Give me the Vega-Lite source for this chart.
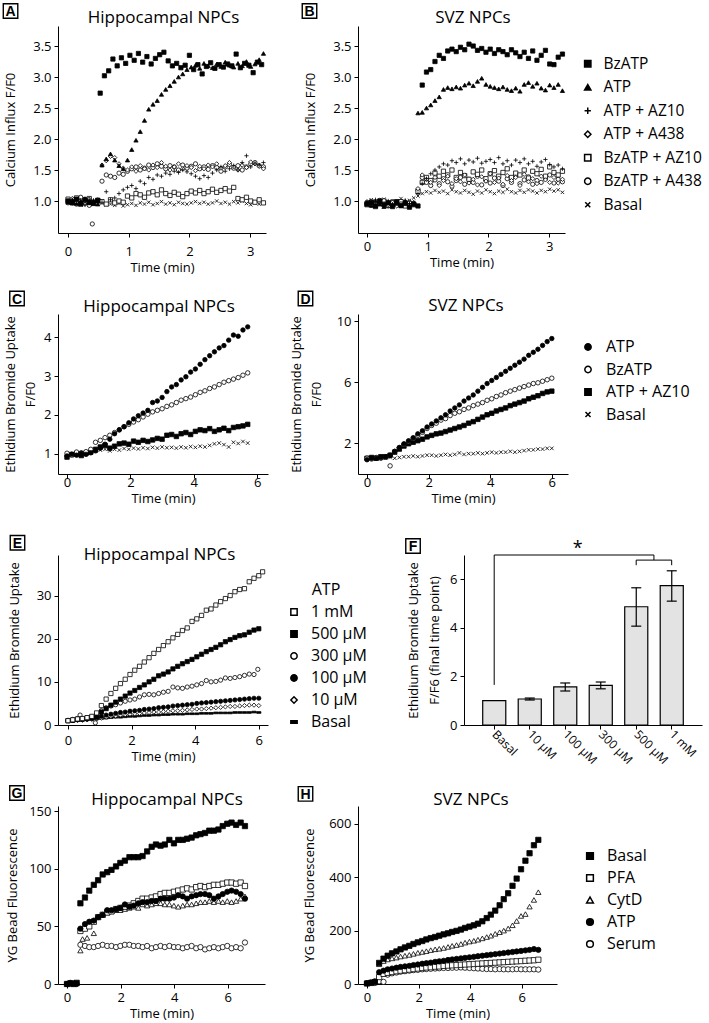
{
"$schema":"https://vega.github.io/schema/vega-lite/v6.json",
"background":"white",
"padding":{"left":0,"top":0,"right":4,"bottom":2},
"columns":2,
"spacing":{"row":81,"column":90},
"bounds":"flush",
"align":"each",
"resolve":{"scale":{"shape":"independent","fill":"independent"},"legend":{"shape":"independent","fill":"independent"}},
"datasets":{
"A":[
{"s":"Basal","t":0,"v":1.00},{"s":"Basal","t":0.07,"v":0.96},{"s":"Basal","t":0.14,"v":1.02},{"s":"Basal","t":0.21,"v":0.94},{"s":"Basal","t":0.28,"v":0.98},{"s":"Basal","t":0.35,"v":1.01},{"s":"Basal","t":0.42,"v":0.95},{"s":"Basal","t":0.49,"v":0.99},{"s":"Basal","t":0.56,"v":0.97},{"s":"Basal","t":0.63,"v":0.94},{"s":"Basal","t":0.7,"v":0.95},{"s":"Basal","t":0.77,"v":0.93},{"s":"Basal","t":0.84,"v":0.96},{"s":"Basal","t":0.91,"v":0.92},{"s":"Basal","t":0.98,"v":0.94},{"s":"Basal","t":1.05,"v":0.96},{"s":"Basal","t":1.12,"v":0.93},{"s":"Basal","t":1.19,"v":0.97},{"s":"Basal","t":1.26,"v":0.95},{"s":"Basal","t":1.33,"v":0.98},{"s":"Basal","t":1.4,"v":0.94},{"s":"Basal","t":1.47,"v":0.96},{"s":"Basal","t":1.54,"v":0.99},{"s":"Basal","t":1.61,"v":0.95},{"s":"Basal","t":1.68,"v":0.97},{"s":"Basal","t":1.75,"v":0.94},{"s":"Basal","t":1.82,"v":0.98},{"s":"Basal","t":1.89,"v":0.96},{"s":"Basal","t":1.96,"v":0.95},{"s":"Basal","t":2.03,"v":0.97},{"s":"Basal","t":2.1,"v":0.99},{"s":"Basal","t":2.17,"v":0.96},{"s":"Basal","t":2.24,"v":0.98},{"s":"Basal","t":2.31,"v":0.95},{"s":"Basal","t":2.38,"v":0.97},{"s":"Basal","t":2.45,"v":1.00},{"s":"Basal","t":2.52,"v":0.96},{"s":"Basal","t":2.59,"v":0.98},{"s":"Basal","t":2.66,"v":0.95},{"s":"Basal","t":2.73,"v":0.99},{"s":"Basal","t":2.8,"v":0.97},{"s":"Basal","t":2.87,"v":1.00},{"s":"Basal","t":2.94,"v":0.96},{"s":"Basal","t":3.01,"v":0.94},{"s":"Basal","t":3.08,"v":0.98},{"s":"Basal","t":3.15,"v":0.95},{"s":"Basal","t":3.22,"v":0.97},
{"s":"BzATP + A438","t":0,"v":0.97},{"s":"BzATP + A438","t":0.07,"v":1.02},{"s":"BzATP + A438","t":0.14,"v":0.95},{"s":"BzATP + A438","t":0.21,"v":1.06},{"s":"BzATP + A438","t":0.28,"v":0.99},{"s":"BzATP + A438","t":0.35,"v":0.93},{"s":"BzATP + A438","t":0.4,"v":0.63},{"s":"BzATP + A438","t":0.49,"v":1.00},{"s":"BzATP + A438","t":0.56,"v":1.32},{"s":"BzATP + A438","t":0.63,"v":1.42},{"s":"BzATP + A438","t":0.7,"v":1.40},{"s":"BzATP + A438","t":0.77,"v":1.38},{"s":"BzATP + A438","t":0.84,"v":1.45},{"s":"BzATP + A438","t":0.91,"v":1.43},{"s":"BzATP + A438","t":0.98,"v":1.48},{"s":"BzATP + A438","t":1.05,"v":1.52},{"s":"BzATP + A438","t":1.12,"v":1.55},{"s":"BzATP + A438","t":1.19,"v":1.50},{"s":"BzATP + A438","t":1.26,"v":1.53},{"s":"BzATP + A438","t":1.33,"v":1.58},{"s":"BzATP + A438","t":1.4,"v":1.54},{"s":"BzATP + A438","t":1.47,"v":1.60},{"s":"BzATP + A438","t":1.54,"v":1.56},{"s":"BzATP + A438","t":1.61,"v":1.52},{"s":"BzATP + A438","t":1.68,"v":1.57},{"s":"BzATP + A438","t":1.75,"v":1.55},{"s":"BzATP + A438","t":1.82,"v":1.50},{"s":"BzATP + A438","t":1.89,"v":1.58},{"s":"BzATP + A438","t":1.96,"v":1.53},{"s":"BzATP + A438","t":2.03,"v":1.56},{"s":"BzATP + A438","t":2.1,"v":1.60},{"s":"BzATP + A438","t":2.17,"v":1.52},{"s":"BzATP + A438","t":2.24,"v":1.55},{"s":"BzATP + A438","t":2.31,"v":1.51},{"s":"BzATP + A438","t":2.38,"v":1.57},{"s":"BzATP + A438","t":2.45,"v":1.54},{"s":"BzATP + A438","t":2.52,"v":1.48},{"s":"BzATP + A438","t":2.59,"v":1.55},{"s":"BzATP + A438","t":2.66,"v":1.59},{"s":"BzATP + A438","t":2.73,"v":1.53},{"s":"BzATP + A438","t":2.8,"v":1.57},{"s":"BzATP + A438","t":2.87,"v":1.50},{"s":"BzATP + A438","t":2.94,"v":1.55},{"s":"BzATP + A438","t":3.01,"v":1.60},{"s":"BzATP + A438","t":3.08,"v":1.62},{"s":"BzATP + A438","t":3.15,"v":1.57},{"s":"BzATP + A438","t":3.22,"v":1.55},
{"s":"BzATP + AZ10","t":0,"v":1.03},{"s":"BzATP + AZ10","t":0.07,"v":0.98},{"s":"BzATP + AZ10","t":0.14,"v":1.05},{"s":"BzATP + AZ10","t":0.21,"v":0.96},{"s":"BzATP + AZ10","t":0.28,"v":1.00},{"s":"BzATP + AZ10","t":0.35,"v":1.04},{"s":"BzATP + AZ10","t":0.42,"v":0.97},{"s":"BzATP + AZ10","t":0.49,"v":1.01},{"s":"BzATP + AZ10","t":0.56,"v":0.99},{"s":"BzATP + AZ10","t":0.63,"v":0.95},{"s":"BzATP + AZ10","t":0.7,"v":1.02},{"s":"BzATP + AZ10","t":0.77,"v":0.97},{"s":"BzATP + AZ10","t":0.84,"v":1.00},{"s":"BzATP + AZ10","t":0.91,"v":0.98},{"s":"BzATP + AZ10","t":0.98,"v":1.08},{"s":"BzATP + AZ10","t":1.05,"v":1.05},{"s":"BzATP + AZ10","t":1.12,"v":1.12},{"s":"BzATP + AZ10","t":1.19,"v":1.10},{"s":"BzATP + AZ10","t":1.26,"v":1.06},{"s":"BzATP + AZ10","t":1.33,"v":1.13},{"s":"BzATP + AZ10","t":1.4,"v":1.15},{"s":"BzATP + AZ10","t":1.47,"v":1.10},{"s":"BzATP + AZ10","t":1.54,"v":1.18},{"s":"BzATP + AZ10","t":1.61,"v":1.12},{"s":"BzATP + AZ10","t":1.68,"v":1.09},{"s":"BzATP + AZ10","t":1.75,"v":1.14},{"s":"BzATP + AZ10","t":1.82,"v":1.11},{"s":"BzATP + AZ10","t":1.89,"v":1.07},{"s":"BzATP + AZ10","t":1.96,"v":1.12},{"s":"BzATP + AZ10","t":2.03,"v":1.16},{"s":"BzATP + AZ10","t":2.1,"v":1.13},{"s":"BzATP + AZ10","t":2.17,"v":1.17},{"s":"BzATP + AZ10","t":2.24,"v":1.12},{"s":"BzATP + AZ10","t":2.31,"v":1.15},{"s":"BzATP + AZ10","t":2.38,"v":1.19},{"s":"BzATP + AZ10","t":2.45,"v":1.14},{"s":"BzATP + AZ10","t":2.52,"v":1.17},{"s":"BzATP + AZ10","t":2.59,"v":1.20},{"s":"BzATP + AZ10","t":2.66,"v":1.16},{"s":"BzATP + AZ10","t":2.73,"v":1.22},{"s":"BzATP + AZ10","t":2.8,"v":1.04},{"s":"BzATP + AZ10","t":2.87,"v":1.02},{"s":"BzATP + AZ10","t":2.94,"v":1.06},{"s":"BzATP + AZ10","t":3.01,"v":1.00},{"s":"BzATP + AZ10","t":3.08,"v":0.98},{"s":"BzATP + AZ10","t":3.15,"v":1.02},{"s":"BzATP + AZ10","t":3.22,"v":0.97},
{"s":"ATP + A438","t":0,"v":0.99},{"s":"ATP + A438","t":0.07,"v":1.04},{"s":"ATP + A438","t":0.14,"v":0.97},{"s":"ATP + A438","t":0.21,"v":1.01},{"s":"ATP + A438","t":0.28,"v":0.95},{"s":"ATP + A438","t":0.35,"v":1.03},{"s":"ATP + A438","t":0.42,"v":0.98},{"s":"ATP + A438","t":0.49,"v":1.02},{"s":"ATP + A438","t":0.56,"v":1.58},{"s":"ATP + A438","t":0.63,"v":1.65},{"s":"ATP + A438","t":0.7,"v":1.72},{"s":"ATP + A438","t":0.77,"v":1.70},{"s":"ATP + A438","t":0.84,"v":1.60},{"s":"ATP + A438","t":0.91,"v":1.53},{"s":"ATP + A438","t":0.98,"v":1.50},{"s":"ATP + A438","t":1.05,"v":1.55},{"s":"ATP + A438","t":1.12,"v":1.48},{"s":"ATP + A438","t":1.19,"v":1.57},{"s":"ATP + A438","t":1.26,"v":1.52},{"s":"ATP + A438","t":1.33,"v":1.50},{"s":"ATP + A438","t":1.4,"v":1.58},{"s":"ATP + A438","t":1.47,"v":1.54},{"s":"ATP + A438","t":1.54,"v":1.62},{"s":"ATP + A438","t":1.61,"v":1.56},{"s":"ATP + A438","t":1.68,"v":1.50},{"s":"ATP + A438","t":1.75,"v":1.55},{"s":"ATP + A438","t":1.82,"v":1.60},{"s":"ATP + A438","t":1.89,"v":1.52},{"s":"ATP + A438","t":1.96,"v":1.57},{"s":"ATP + A438","t":2.03,"v":1.54},{"s":"ATP + A438","t":2.1,"v":1.49},{"s":"ATP + A438","t":2.17,"v":1.56},{"s":"ATP + A438","t":2.24,"v":1.52},{"s":"ATP + A438","t":2.31,"v":1.58},{"s":"ATP + A438","t":2.38,"v":1.55},{"s":"ATP + A438","t":2.45,"v":1.60},{"s":"ATP + A438","t":2.52,"v":1.53},{"s":"ATP + A438","t":2.59,"v":1.57},{"s":"ATP + A438","t":2.66,"v":1.62},{"s":"ATP + A438","t":2.73,"v":1.55},{"s":"ATP + A438","t":2.8,"v":1.50},{"s":"ATP + A438","t":2.87,"v":1.58},{"s":"ATP + A438","t":2.94,"v":1.54},{"s":"ATP + A438","t":3.01,"v":1.63},{"s":"ATP + A438","t":3.08,"v":1.60},{"s":"ATP + A438","t":3.15,"v":1.56},{"s":"ATP + A438","t":3.22,"v":1.52},
{"s":"ATP + AZ10","t":0,"v":1.01},{"s":"ATP + AZ10","t":0.07,"v":0.96},{"s":"ATP + AZ10","t":0.14,"v":1.03},{"s":"ATP + AZ10","t":0.21,"v":0.99},{"s":"ATP + AZ10","t":0.28,"v":0.94},{"s":"ATP + AZ10","t":0.35,"v":1.02},{"s":"ATP + AZ10","t":0.42,"v":0.97},{"s":"ATP + AZ10","t":0.49,"v":1.00},{"s":"ATP + AZ10","t":0.56,"v":0.98},{"s":"ATP + AZ10","t":0.63,"v":1.15},{"s":"ATP + AZ10","t":0.7,"v":1.02},{"s":"ATP + AZ10","t":0.77,"v":1.05},{"s":"ATP + AZ10","t":0.84,"v":1.12},{"s":"ATP + AZ10","t":0.91,"v":1.18},{"s":"ATP + AZ10","t":0.98,"v":1.22},{"s":"ATP + AZ10","t":1.05,"v":1.25},{"s":"ATP + AZ10","t":1.12,"v":1.20},{"s":"ATP + AZ10","t":1.19,"v":1.32},{"s":"ATP + AZ10","t":1.26,"v":1.28},{"s":"ATP + AZ10","t":1.33,"v":1.38},{"s":"ATP + AZ10","t":1.4,"v":1.35},{"s":"ATP + AZ10","t":1.47,"v":1.42},{"s":"ATP + AZ10","t":1.54,"v":1.40},{"s":"ATP + AZ10","t":1.61,"v":1.45},{"s":"ATP + AZ10","t":1.68,"v":1.43},{"s":"ATP + AZ10","t":1.75,"v":1.48},{"s":"ATP + AZ10","t":1.82,"v":1.46},{"s":"ATP + AZ10","t":1.89,"v":1.50},{"s":"ATP + AZ10","t":1.96,"v":1.47},{"s":"ATP + AZ10","t":2.03,"v":1.44},{"s":"ATP + AZ10","t":2.1,"v":1.40},{"s":"ATP + AZ10","t":2.17,"v":1.36},{"s":"ATP + AZ10","t":2.24,"v":1.41},{"s":"ATP + AZ10","t":2.31,"v":1.38},{"s":"ATP + AZ10","t":2.38,"v":1.45},{"s":"ATP + AZ10","t":2.45,"v":1.50},{"s":"ATP + AZ10","t":2.52,"v":1.55},{"s":"ATP + AZ10","t":2.59,"v":1.48},{"s":"ATP + AZ10","t":2.66,"v":1.52},{"s":"ATP + AZ10","t":2.73,"v":1.57},{"s":"ATP + AZ10","t":2.8,"v":1.50},{"s":"ATP + AZ10","t":2.87,"v":1.62},{"s":"ATP + AZ10","t":2.94,"v":1.73},{"s":"ATP + AZ10","t":3.01,"v":1.55},{"s":"ATP + AZ10","t":3.08,"v":1.60},{"s":"ATP + AZ10","t":3.15,"v":1.58},{"s":"ATP + AZ10","t":3.22,"v":1.62},
{"s":"ATP","t":0,"v":0.98},{"s":"ATP","t":0.07,"v":1.02},{"s":"ATP","t":0.14,"v":0.96},{"s":"ATP","t":0.21,"v":1.00},{"s":"ATP","t":0.28,"v":1.04},{"s":"ATP","t":0.35,"v":0.97},{"s":"ATP","t":0.42,"v":1.01},{"s":"ATP","t":0.49,"v":0.95},{"s":"ATP","t":0.56,"v":1.58},{"s":"ATP","t":0.63,"v":1.68},{"s":"ATP","t":0.7,"v":1.76},{"s":"ATP","t":0.77,"v":1.66},{"s":"ATP","t":0.84,"v":1.57},{"s":"ATP","t":0.91,"v":1.52},{"s":"ATP","t":0.98,"v":1.66},{"s":"ATP","t":1.05,"v":1.83},{"s":"ATP","t":1.12,"v":1.98},{"s":"ATP","t":1.19,"v":2.12},{"s":"ATP","t":1.26,"v":2.30},{"s":"ATP","t":1.33,"v":2.48},{"s":"ATP","t":1.4,"v":2.56},{"s":"ATP","t":1.47,"v":2.62},{"s":"ATP","t":1.54,"v":2.72},{"s":"ATP","t":1.61,"v":2.80},{"s":"ATP","t":1.68,"v":2.86},{"s":"ATP","t":1.75,"v":2.93},{"s":"ATP","t":1.82,"v":3.00},{"s":"ATP","t":1.89,"v":3.05},{"s":"ATP","t":1.96,"v":3.12},{"s":"ATP","t":2.03,"v":3.16},{"s":"ATP","t":2.1,"v":3.19},{"s":"ATP","t":2.17,"v":3.14},{"s":"ATP","t":2.24,"v":3.22},{"s":"ATP","t":2.31,"v":3.18},{"s":"ATP","t":2.38,"v":3.15},{"s":"ATP","t":2.45,"v":3.21},{"s":"ATP","t":2.52,"v":3.17},{"s":"ATP","t":2.59,"v":3.24},{"s":"ATP","t":2.66,"v":3.19},{"s":"ATP","t":2.73,"v":3.16},{"s":"ATP","t":2.8,"v":3.22},{"s":"ATP","t":2.87,"v":3.18},{"s":"ATP","t":2.94,"v":3.25},{"s":"ATP","t":3.01,"v":3.17},{"s":"ATP","t":3.08,"v":3.21},{"s":"ATP","t":3.15,"v":3.28},{"s":"ATP","t":3.22,"v":3.38},
{"s":"BzATP","t":0,"v":1.00},{"s":"BzATP","t":0.07,"v":0.97},{"s":"BzATP","t":0.14,"v":1.03},{"s":"BzATP","t":0.21,"v":0.95},{"s":"BzATP","t":0.28,"v":1.02},{"s":"BzATP","t":0.35,"v":0.98},{"s":"BzATP","t":0.42,"v":0.96},{"s":"BzATP","t":0.49,"v":1.01},{"s":"BzATP","t":0.53,"v":2.74},{"s":"BzATP","t":0.6,"v":3.02},{"s":"BzATP","t":0.67,"v":3.10},{"s":"BzATP","t":0.74,"v":3.29},{"s":"BzATP","t":0.81,"v":3.18},{"s":"BzATP","t":0.88,"v":3.31},{"s":"BzATP","t":0.95,"v":3.22},{"s":"BzATP","t":1.02,"v":3.35},{"s":"BzATP","t":1.09,"v":3.27},{"s":"BzATP","t":1.16,"v":3.38},{"s":"BzATP","t":1.23,"v":3.24},{"s":"BzATP","t":1.3,"v":3.33},{"s":"BzATP","t":1.37,"v":3.21},{"s":"BzATP","t":1.44,"v":3.30},{"s":"BzATP","t":1.51,"v":3.36},{"s":"BzATP","t":1.58,"v":3.40},{"s":"BzATP","t":1.65,"v":3.26},{"s":"BzATP","t":1.72,"v":3.18},{"s":"BzATP","t":1.79,"v":3.22},{"s":"BzATP","t":1.86,"v":3.15},{"s":"BzATP","t":1.93,"v":3.19},{"s":"BzATP","t":2.0,"v":3.35},{"s":"BzATP","t":2.07,"v":3.12},{"s":"BzATP","t":2.14,"v":3.20},{"s":"BzATP","t":2.21,"v":3.05},{"s":"BzATP","t":2.28,"v":3.17},{"s":"BzATP","t":2.35,"v":3.23},{"s":"BzATP","t":2.42,"v":3.14},{"s":"BzATP","t":2.49,"v":3.20},{"s":"BzATP","t":2.56,"v":3.16},{"s":"BzATP","t":2.63,"v":3.21},{"s":"BzATP","t":2.7,"v":3.18},{"s":"BzATP","t":2.77,"v":3.37},{"s":"BzATP","t":2.84,"v":3.15},{"s":"BzATP","t":2.91,"v":3.22},{"s":"BzATP","t":2.98,"v":3.19},{"s":"BzATP","t":3.05,"v":3.07},{"s":"BzATP","t":3.12,"v":3.24},{"s":"BzATP","t":3.19,"v":3.20}
],
"B":[
{"s":"Basal","t":0,"v":0.97},{"s":"Basal","t":0.07,"v":1.02},{"s":"Basal","t":0.14,"v":0.95},{"s":"Basal","t":0.21,"v":0.99},{"s":"Basal","t":0.28,"v":1.03},{"s":"Basal","t":0.35,"v":0.96},{"s":"Basal","t":0.42,"v":1.00},{"s":"Basal","t":0.49,"v":0.98},{"s":"Basal","t":0.56,"v":1.04},{"s":"Basal","t":0.63,"v":0.97},{"s":"Basal","t":0.7,"v":1.01},{"s":"Basal","t":0.77,"v":1.05},{"s":"Basal","t":0.84,"v":1.08},{"s":"Basal","t":0.91,"v":1.12},{"s":"Basal","t":0.98,"v":1.15},{"s":"Basal","t":1.05,"v":1.13},{"s":"Basal","t":1.12,"v":1.17},{"s":"Basal","t":1.19,"v":1.14},{"s":"Basal","t":1.26,"v":1.16},{"s":"Basal","t":1.33,"v":1.12},{"s":"Basal","t":1.4,"v":1.18},{"s":"Basal","t":1.47,"v":1.15},{"s":"Basal","t":1.54,"v":1.13},{"s":"Basal","t":1.61,"v":1.17},{"s":"Basal","t":1.68,"v":1.14},{"s":"Basal","t":1.75,"v":1.11},{"s":"Basal","t":1.82,"v":1.16},{"s":"Basal","t":1.89,"v":1.13},{"s":"Basal","t":1.96,"v":1.18},{"s":"Basal","t":2.03,"v":1.15},{"s":"Basal","t":2.1,"v":1.12},{"s":"Basal","t":2.17,"v":1.16},{"s":"Basal","t":2.24,"v":1.14},{"s":"Basal","t":2.31,"v":1.19},{"s":"Basal","t":2.38,"v":1.15},{"s":"Basal","t":2.45,"v":1.13},{"s":"Basal","t":2.52,"v":1.17},{"s":"Basal","t":2.59,"v":1.14},{"s":"Basal","t":2.66,"v":1.18},{"s":"Basal","t":2.73,"v":1.16},{"s":"Basal","t":2.8,"v":1.13},{"s":"Basal","t":2.87,"v":1.17},{"s":"Basal","t":2.94,"v":1.15},{"s":"Basal","t":3.01,"v":1.19},{"s":"Basal","t":3.08,"v":1.16},{"s":"Basal","t":3.15,"v":1.18},{"s":"Basal","t":3.22,"v":1.14},
{"s":"BzATP + A438","t":0,"v":0.98},{"s":"BzATP + A438","t":0.07,"v":0.93},{"s":"BzATP + A438","t":0.14,"v":0.97},{"s":"BzATP + A438","t":0.21,"v":1.01},{"s":"BzATP + A438","t":0.28,"v":0.95},{"s":"BzATP + A438","t":0.35,"v":0.92},{"s":"BzATP + A438","t":0.42,"v":0.99},{"s":"BzATP + A438","t":0.49,"v":0.94},{"s":"BzATP + A438","t":0.56,"v":0.97},{"s":"BzATP + A438","t":0.63,"v":0.93},{"s":"BzATP + A438","t":0.7,"v":0.98},{"s":"BzATP + A438","t":0.77,"v":0.96},{"s":"BzATP + A438","t":0.84,"v":1.18},{"s":"BzATP + A438","t":0.91,"v":1.38},{"s":"BzATP + A438","t":0.98,"v":1.30},{"s":"BzATP + A438","t":1.05,"v":1.25},{"s":"BzATP + A438","t":1.12,"v":1.34},{"s":"BzATP + A438","t":1.19,"v":1.28},{"s":"BzATP + A438","t":1.26,"v":1.36},{"s":"BzATP + A438","t":1.33,"v":1.31},{"s":"BzATP + A438","t":1.4,"v":1.24},{"s":"BzATP + A438","t":1.47,"v":1.33},{"s":"BzATP + A438","t":1.54,"v":1.38},{"s":"BzATP + A438","t":1.61,"v":1.27},{"s":"BzATP + A438","t":1.68,"v":1.35},{"s":"BzATP + A438","t":1.75,"v":1.30},{"s":"BzATP + A438","t":1.82,"v":1.40},{"s":"BzATP + A438","t":1.89,"v":1.26},{"s":"BzATP + A438","t":1.96,"v":1.33},{"s":"BzATP + A438","t":2.03,"v":1.29},{"s":"BzATP + A438","t":2.1,"v":1.37},{"s":"BzATP + A438","t":2.17,"v":1.32},{"s":"BzATP + A438","t":2.24,"v":1.25},{"s":"BzATP + A438","t":2.31,"v":1.36},{"s":"BzATP + A438","t":2.38,"v":1.30},{"s":"BzATP + A438","t":2.45,"v":1.41},{"s":"BzATP + A438","t":2.52,"v":1.28},{"s":"BzATP + A438","t":2.59,"v":1.34},{"s":"BzATP + A438","t":2.66,"v":1.39},{"s":"BzATP + A438","t":2.73,"v":1.27},{"s":"BzATP + A438","t":2.8,"v":1.33},{"s":"BzATP + A438","t":2.87,"v":1.30},{"s":"BzATP + A438","t":2.94,"v":1.36},{"s":"BzATP + A438","t":3.01,"v":1.42},{"s":"BzATP + A438","t":3.08,"v":1.29},{"s":"BzATP + A438","t":3.15,"v":1.35},{"s":"BzATP + A438","t":3.22,"v":1.31},
{"s":"BzATP + AZ10","t":0,"v":0.94},{"s":"BzATP + AZ10","t":0.07,"v":0.98},{"s":"BzATP + AZ10","t":0.14,"v":0.91},{"s":"BzATP + AZ10","t":0.21,"v":0.96},{"s":"BzATP + AZ10","t":0.28,"v":1.00},{"s":"BzATP + AZ10","t":0.35,"v":0.93},{"s":"BzATP + AZ10","t":0.42,"v":0.97},{"s":"BzATP + AZ10","t":0.49,"v":0.95},{"s":"BzATP + AZ10","t":0.56,"v":0.99},{"s":"BzATP + AZ10","t":0.63,"v":0.92},{"s":"BzATP + AZ10","t":0.7,"v":0.96},{"s":"BzATP + AZ10","t":0.77,"v":0.94},{"s":"BzATP + AZ10","t":0.84,"v":1.15},{"s":"BzATP + AZ10","t":0.91,"v":1.30},{"s":"BzATP + AZ10","t":0.98,"v":1.38},{"s":"BzATP + AZ10","t":1.05,"v":1.33},{"s":"BzATP + AZ10","t":1.12,"v":1.45},{"s":"BzATP + AZ10","t":1.19,"v":1.40},{"s":"BzATP + AZ10","t":1.26,"v":1.48},{"s":"BzATP + AZ10","t":1.33,"v":1.42},{"s":"BzATP + AZ10","t":1.4,"v":1.50},{"s":"BzATP + AZ10","t":1.47,"v":1.38},{"s":"BzATP + AZ10","t":1.54,"v":1.46},{"s":"BzATP + AZ10","t":1.61,"v":1.41},{"s":"BzATP + AZ10","t":1.68,"v":1.35},{"s":"BzATP + AZ10","t":1.75,"v":1.47},{"s":"BzATP + AZ10","t":1.82,"v":1.43},{"s":"BzATP + AZ10","t":1.89,"v":1.50},{"s":"BzATP + AZ10","t":1.96,"v":1.36},{"s":"BzATP + AZ10","t":2.03,"v":1.44},{"s":"BzATP + AZ10","t":2.1,"v":1.49},{"s":"BzATP + AZ10","t":2.17,"v":1.40},{"s":"BzATP + AZ10","t":2.24,"v":1.46},{"s":"BzATP + AZ10","t":2.31,"v":1.52},{"s":"BzATP + AZ10","t":2.38,"v":1.38},{"s":"BzATP + AZ10","t":2.45,"v":1.45},{"s":"BzATP + AZ10","t":2.52,"v":1.42},{"s":"BzATP + AZ10","t":2.59,"v":1.50},{"s":"BzATP + AZ10","t":2.66,"v":1.37},{"s":"BzATP + AZ10","t":2.73,"v":1.48},{"s":"BzATP + AZ10","t":2.8,"v":1.44},{"s":"BzATP + AZ10","t":2.87,"v":1.51},{"s":"BzATP + AZ10","t":2.94,"v":1.40},{"s":"BzATP + AZ10","t":3.01,"v":1.55},{"s":"BzATP + AZ10","t":3.08,"v":1.46},{"s":"BzATP + AZ10","t":3.15,"v":1.42},{"s":"BzATP + AZ10","t":3.22,"v":1.48},
{"s":"ATP + A438","t":0,"v":0.96},{"s":"ATP + A438","t":0.07,"v":1.00},{"s":"ATP + A438","t":0.14,"v":0.93},{"s":"ATP + A438","t":0.21,"v":0.97},{"s":"ATP + A438","t":0.28,"v":1.01},{"s":"ATP + A438","t":0.35,"v":0.94},{"s":"ATP + A438","t":0.42,"v":0.98},{"s":"ATP + A438","t":0.49,"v":0.92},{"s":"ATP + A438","t":0.56,"v":0.96},{"s":"ATP + A438","t":0.63,"v":0.99},{"s":"ATP + A438","t":0.7,"v":0.94},{"s":"ATP + A438","t":0.77,"v":0.97},{"s":"ATP + A438","t":0.84,"v":1.20},{"s":"ATP + A438","t":0.91,"v":1.42},{"s":"ATP + A438","t":0.98,"v":1.35},{"s":"ATP + A438","t":1.05,"v":1.30},{"s":"ATP + A438","t":1.12,"v":1.38},{"s":"ATP + A438","t":1.19,"v":1.25},{"s":"ATP + A438","t":1.26,"v":1.33},{"s":"ATP + A438","t":1.33,"v":1.40},{"s":"ATP + A438","t":1.4,"v":1.28},{"s":"ATP + A438","t":1.47,"v":1.36},{"s":"ATP + A438","t":1.54,"v":1.31},{"s":"ATP + A438","t":1.61,"v":1.42},{"s":"ATP + A438","t":1.68,"v":1.29},{"s":"ATP + A438","t":1.75,"v":1.35},{"s":"ATP + A438","t":1.82,"v":1.26},{"s":"ATP + A438","t":1.89,"v":1.39},{"s":"ATP + A438","t":1.96,"v":1.32},{"s":"ATP + A438","t":2.03,"v":1.44},{"s":"ATP + A438","t":2.1,"v":1.30},{"s":"ATP + A438","t":2.17,"v":1.37},{"s":"ATP + A438","t":2.24,"v":1.27},{"s":"ATP + A438","t":2.31,"v":1.41},{"s":"ATP + A438","t":2.38,"v":1.33},{"s":"ATP + A438","t":2.45,"v":1.38},{"s":"ATP + A438","t":2.52,"v":1.25},{"s":"ATP + A438","t":2.59,"v":1.43},{"s":"ATP + A438","t":2.66,"v":1.31},{"s":"ATP + A438","t":2.73,"v":1.36},{"s":"ATP + A438","t":2.8,"v":1.28},{"s":"ATP + A438","t":2.87,"v":1.40},{"s":"ATP + A438","t":2.94,"v":1.34},{"s":"ATP + A438","t":3.01,"v":1.30},{"s":"ATP + A438","t":3.08,"v":1.38},{"s":"ATP + A438","t":3.15,"v":1.29},{"s":"ATP + A438","t":3.22,"v":1.35},
{"s":"ATP + AZ10","t":0,"v":0.99},{"s":"ATP + AZ10","t":0.07,"v":0.94},{"s":"ATP + AZ10","t":0.14,"v":1.02},{"s":"ATP + AZ10","t":0.21,"v":0.96},{"s":"ATP + AZ10","t":0.28,"v":0.93},{"s":"ATP + AZ10","t":0.35,"v":1.00},{"s":"ATP + AZ10","t":0.42,"v":0.95},{"s":"ATP + AZ10","t":0.49,"v":0.97},{"s":"ATP + AZ10","t":0.56,"v":0.92},{"s":"ATP + AZ10","t":0.63,"v":1.01},{"s":"ATP + AZ10","t":0.7,"v":0.96},{"s":"ATP + AZ10","t":0.77,"v":0.98},{"s":"ATP + AZ10","t":0.84,"v":1.12},{"s":"ATP + AZ10","t":0.91,"v":1.28},{"s":"ATP + AZ10","t":0.98,"v":1.36},{"s":"ATP + AZ10","t":1.05,"v":1.44},{"s":"ATP + AZ10","t":1.12,"v":1.50},{"s":"ATP + AZ10","t":1.19,"v":1.55},{"s":"ATP + AZ10","t":1.26,"v":1.60},{"s":"ATP + AZ10","t":1.33,"v":1.58},{"s":"ATP + AZ10","t":1.4,"v":1.65},{"s":"ATP + AZ10","t":1.47,"v":1.62},{"s":"ATP + AZ10","t":1.54,"v":1.68},{"s":"ATP + AZ10","t":1.61,"v":1.60},{"s":"ATP + AZ10","t":1.68,"v":1.66},{"s":"ATP + AZ10","t":1.75,"v":1.63},{"s":"ATP + AZ10","t":1.82,"v":1.69},{"s":"ATP + AZ10","t":1.89,"v":1.61},{"s":"ATP + AZ10","t":1.96,"v":1.64},{"s":"ATP + AZ10","t":2.03,"v":1.67},{"s":"ATP + AZ10","t":2.1,"v":1.62},{"s":"ATP + AZ10","t":2.17,"v":1.70},{"s":"ATP + AZ10","t":2.24,"v":1.60},{"s":"ATP + AZ10","t":2.31,"v":1.65},{"s":"ATP + AZ10","t":2.38,"v":1.58},{"s":"ATP + AZ10","t":2.45,"v":1.66},{"s":"ATP + AZ10","t":2.52,"v":1.62},{"s":"ATP + AZ10","t":2.59,"v":1.68},{"s":"ATP + AZ10","t":2.66,"v":1.60},{"s":"ATP + AZ10","t":2.73,"v":1.64},{"s":"ATP + AZ10","t":2.8,"v":1.56},{"s":"ATP + AZ10","t":2.87,"v":1.63},{"s":"ATP + AZ10","t":2.94,"v":1.67},{"s":"ATP + AZ10","t":3.01,"v":1.59},{"s":"ATP + AZ10","t":3.08,"v":1.55},{"s":"ATP + AZ10","t":3.15,"v":1.58},{"s":"ATP + AZ10","t":3.22,"v":1.52},
{"s":"ATP","t":0,"v":0.97},{"s":"ATP","t":0.07,"v":0.93},{"s":"ATP","t":0.14,"v":1.00},{"s":"ATP","t":0.21,"v":0.95},{"s":"ATP","t":0.28,"v":0.91},{"s":"ATP","t":0.35,"v":0.98},{"s":"ATP","t":0.42,"v":0.94},{"s":"ATP","t":0.49,"v":0.96},{"s":"ATP","t":0.56,"v":0.92},{"s":"ATP","t":0.63,"v":0.99},{"s":"ATP","t":0.7,"v":0.93},{"s":"ATP","t":0.77,"v":0.95},{"s":"ATP","t":0.84,"v":2.42},{"s":"ATP","t":0.91,"v":2.43},{"s":"ATP","t":0.98,"v":2.50},{"s":"ATP","t":1.05,"v":2.55},{"s":"ATP","t":1.12,"v":2.62},{"s":"ATP","t":1.19,"v":2.68},{"s":"ATP","t":1.26,"v":2.80},{"s":"ATP","t":1.33,"v":2.83},{"s":"ATP","t":1.4,"v":2.81},{"s":"ATP","t":1.47,"v":2.84},{"s":"ATP","t":1.54,"v":2.82},{"s":"ATP","t":1.61,"v":2.87},{"s":"ATP","t":1.68,"v":2.90},{"s":"ATP","t":1.75,"v":2.86},{"s":"ATP","t":1.82,"v":2.93},{"s":"ATP","t":1.89,"v":2.98},{"s":"ATP","t":1.96,"v":2.88},{"s":"ATP","t":2.03,"v":2.85},{"s":"ATP","t":2.1,"v":2.83},{"s":"ATP","t":2.17,"v":2.81},{"s":"ATP","t":2.24,"v":2.84},{"s":"ATP","t":2.31,"v":2.80},{"s":"ATP","t":2.38,"v":2.78},{"s":"ATP","t":2.45,"v":2.82},{"s":"ATP","t":2.52,"v":2.77},{"s":"ATP","t":2.59,"v":2.88},{"s":"ATP","t":2.66,"v":2.91},{"s":"ATP","t":2.73,"v":2.85},{"s":"ATP","t":2.8,"v":2.90},{"s":"ATP","t":2.87,"v":2.82},{"s":"ATP","t":2.94,"v":2.79},{"s":"ATP","t":3.01,"v":2.87},{"s":"ATP","t":3.08,"v":2.83},{"s":"ATP","t":3.15,"v":2.88},{"s":"ATP","t":3.22,"v":2.78},
{"s":"BzATP","t":0,"v":0.95},{"s":"BzATP","t":0.07,"v":0.98},{"s":"BzATP","t":0.14,"v":0.92},{"s":"BzATP","t":0.21,"v":1.00},{"s":"BzATP","t":0.28,"v":0.94},{"s":"BzATP","t":0.35,"v":0.97},{"s":"BzATP","t":0.42,"v":0.91},{"s":"BzATP","t":0.49,"v":0.99},{"s":"BzATP","t":0.56,"v":0.93},{"s":"BzATP","t":0.63,"v":0.96},{"s":"BzATP","t":0.7,"v":0.90},{"s":"BzATP","t":0.77,"v":0.95},{"s":"BzATP","t":0.84,"v":0.92},{"s":"BzATP","t":0.91,"v":2.87},{"s":"BzATP","t":0.98,"v":3.08},{"s":"BzATP","t":1.05,"v":3.12},{"s":"BzATP","t":1.12,"v":3.25},{"s":"BzATP","t":1.19,"v":3.35},{"s":"BzATP","t":1.26,"v":3.30},{"s":"BzATP","t":1.33,"v":3.42},{"s":"BzATP","t":1.4,"v":3.45},{"s":"BzATP","t":1.47,"v":3.41},{"s":"BzATP","t":1.54,"v":3.48},{"s":"BzATP","t":1.61,"v":3.44},{"s":"BzATP","t":1.68,"v":3.53},{"s":"BzATP","t":1.75,"v":3.50},{"s":"BzATP","t":1.82,"v":3.43},{"s":"BzATP","t":1.89,"v":3.46},{"s":"BzATP","t":1.96,"v":3.40},{"s":"BzATP","t":2.03,"v":3.45},{"s":"BzATP","t":2.1,"v":3.38},{"s":"BzATP","t":2.17,"v":3.44},{"s":"BzATP","t":2.24,"v":3.41},{"s":"BzATP","t":2.31,"v":3.36},{"s":"BzATP","t":2.38,"v":3.44},{"s":"BzATP","t":2.45,"v":3.39},{"s":"BzATP","t":2.52,"v":3.33},{"s":"BzATP","t":2.59,"v":3.40},{"s":"BzATP","t":2.66,"v":3.30},{"s":"BzATP","t":2.73,"v":3.42},{"s":"BzATP","t":2.8,"v":3.27},{"s":"BzATP","t":2.87,"v":3.35},{"s":"BzATP","t":2.94,"v":3.43},{"s":"BzATP","t":3.01,"v":3.21},{"s":"BzATP","t":3.08,"v":3.20},{"s":"BzATP","t":3.15,"v":3.32},{"s":"BzATP","t":3.22,"v":3.37}
],
"C":[
{"s":"Basal","t":0,"v":0.98},{"s":"Basal","t":0.15,"v":1.01},{"s":"Basal","t":0.3,"v":0.99},{"s":"Basal","t":0.45,"v":1.03},{"s":"Basal","t":0.6,"v":1.00},{"s":"Basal","t":0.75,"v":1.05},{"s":"Basal","t":0.9,"v":1.08},{"s":"Basal","t":1.05,"v":1.10},{"s":"Basal","t":1.2,"v":1.12},{"s":"Basal","t":1.35,"v":1.08},{"s":"Basal","t":1.5,"v":1.12},{"s":"Basal","t":1.65,"v":1.10},{"s":"Basal","t":1.8,"v":1.14},{"s":"Basal","t":1.95,"v":1.12},{"s":"Basal","t":2.1,"v":1.15},{"s":"Basal","t":2.25,"v":1.13},{"s":"Basal","t":2.4,"v":1.16},{"s":"Basal","t":2.55,"v":1.14},{"s":"Basal","t":2.7,"v":1.17},{"s":"Basal","t":2.85,"v":1.15},{"s":"Basal","t":3,"v":1.18},{"s":"Basal","t":3.15,"v":1.16},{"s":"Basal","t":3.3,"v":1.17},{"s":"Basal","t":3.45,"v":1.15},{"s":"Basal","t":3.6,"v":1.18},{"s":"Basal","t":3.75,"v":1.16},{"s":"Basal","t":3.9,"v":1.19},{"s":"Basal","t":4.05,"v":1.17},{"s":"Basal","t":4.2,"v":1.20},{"s":"Basal","t":4.35,"v":1.18},{"s":"Basal","t":4.5,"v":1.22},{"s":"Basal","t":4.65,"v":1.26},{"s":"Basal","t":4.8,"v":1.28},{"s":"Basal","t":4.95,"v":1.24},{"s":"Basal","t":5.1,"v":1.18},{"s":"Basal","t":5.25,"v":1.30},{"s":"Basal","t":5.4,"v":1.27},{"s":"Basal","t":5.55,"v":1.32},{"s":"Basal","t":5.7,"v":1.28},
{"s":"ATP + AZ10","t":0,"v":0.92},{"s":"ATP + AZ10","t":0.15,"v":0.98},{"s":"ATP + AZ10","t":0.3,"v":1.00},{"s":"ATP + AZ10","t":0.45,"v":0.96},{"s":"ATP + AZ10","t":0.6,"v":1.02},{"s":"ATP + AZ10","t":0.75,"v":1.05},{"s":"ATP + AZ10","t":0.9,"v":1.12},{"s":"ATP + AZ10","t":1.05,"v":1.18},{"s":"ATP + AZ10","t":1.2,"v":1.22},{"s":"ATP + AZ10","t":1.35,"v":1.15},{"s":"ATP + AZ10","t":1.5,"v":1.20},{"s":"ATP + AZ10","t":1.65,"v":1.26},{"s":"ATP + AZ10","t":1.8,"v":1.28},{"s":"ATP + AZ10","t":1.95,"v":1.25},{"s":"ATP + AZ10","t":2.1,"v":1.33},{"s":"ATP + AZ10","t":2.25,"v":1.30},{"s":"ATP + AZ10","t":2.4,"v":1.35},{"s":"ATP + AZ10","t":2.55,"v":1.32},{"s":"ATP + AZ10","t":2.7,"v":1.36},{"s":"ATP + AZ10","t":2.85,"v":1.40},{"s":"ATP + AZ10","t":3,"v":1.38},{"s":"ATP + AZ10","t":3.15,"v":1.48},{"s":"ATP + AZ10","t":3.3,"v":1.50},{"s":"ATP + AZ10","t":3.45,"v":1.45},{"s":"ATP + AZ10","t":3.6,"v":1.52},{"s":"ATP + AZ10","t":3.75,"v":1.55},{"s":"ATP + AZ10","t":3.9,"v":1.50},{"s":"ATP + AZ10","t":4.05,"v":1.58},{"s":"ATP + AZ10","t":4.2,"v":1.62},{"s":"ATP + AZ10","t":4.35,"v":1.60},{"s":"ATP + AZ10","t":4.5,"v":1.65},{"s":"ATP + AZ10","t":4.65,"v":1.58},{"s":"ATP + AZ10","t":4.8,"v":1.62},{"s":"ATP + AZ10","t":4.95,"v":1.66},{"s":"ATP + AZ10","t":5.1,"v":1.60},{"s":"ATP + AZ10","t":5.25,"v":1.68},{"s":"ATP + AZ10","t":5.4,"v":1.70},{"s":"ATP + AZ10","t":5.55,"v":1.72},{"s":"ATP + AZ10","t":5.7,"v":1.76},
{"s":"BzATP","t":0,"v":1.02},{"s":"BzATP","t":0.15,"v":0.98},{"s":"BzATP","t":0.3,"v":1.05},{"s":"BzATP","t":0.45,"v":1.03},{"s":"BzATP","t":0.6,"v":1.06},{"s":"BzATP","t":0.75,"v":1.12},{"s":"BzATP","t":0.9,"v":1.30},{"s":"BzATP","t":1.05,"v":1.35},{"s":"BzATP","t":1.2,"v":1.42},{"s":"BzATP","t":1.35,"v":1.48},{"s":"BzATP","t":1.5,"v":1.55},{"s":"BzATP","t":1.65,"v":1.62},{"s":"BzATP","t":1.8,"v":1.70},{"s":"BzATP","t":1.95,"v":1.76},{"s":"BzATP","t":2.1,"v":1.82},{"s":"BzATP","t":2.25,"v":1.88},{"s":"BzATP","t":2.4,"v":1.95},{"s":"BzATP","t":2.55,"v":2.02},{"s":"BzATP","t":2.7,"v":2.08},{"s":"BzATP","t":2.85,"v":2.12},{"s":"BzATP","t":3,"v":2.16},{"s":"BzATP","t":3.15,"v":2.22},{"s":"BzATP","t":3.3,"v":2.26},{"s":"BzATP","t":3.45,"v":2.32},{"s":"BzATP","t":3.6,"v":2.38},{"s":"BzATP","t":3.75,"v":2.42},{"s":"BzATP","t":3.9,"v":2.46},{"s":"BzATP","t":4.05,"v":2.52},{"s":"BzATP","t":4.2,"v":2.58},{"s":"BzATP","t":4.35,"v":2.62},{"s":"BzATP","t":4.5,"v":2.68},{"s":"BzATP","t":4.65,"v":2.72},{"s":"BzATP","t":4.8,"v":2.78},{"s":"BzATP","t":4.95,"v":2.84},{"s":"BzATP","t":5.1,"v":2.88},{"s":"BzATP","t":5.25,"v":2.92},{"s":"BzATP","t":5.4,"v":2.96},{"s":"BzATP","t":5.55,"v":3.02},{"s":"BzATP","t":5.7,"v":3.08},
{"s":"ATP","t":0,"v":0.95},{"s":"ATP","t":0.15,"v":1.00},{"s":"ATP","t":0.3,"v":0.97},{"s":"ATP","t":0.45,"v":1.02},{"s":"ATP","t":0.6,"v":0.99},{"s":"ATP","t":0.75,"v":1.03},{"s":"ATP","t":0.9,"v":1.08},{"s":"ATP","t":1.05,"v":1.15},{"s":"ATP","t":1.2,"v":1.25},{"s":"ATP","t":1.35,"v":1.38},{"s":"ATP","t":1.5,"v":1.52},{"s":"ATP","t":1.65,"v":1.62},{"s":"ATP","t":1.8,"v":1.70},{"s":"ATP","t":1.95,"v":1.80},{"s":"ATP","t":2.1,"v":1.90},{"s":"ATP","t":2.25,"v":1.98},{"s":"ATP","t":2.4,"v":2.05},{"s":"ATP","t":2.55,"v":2.12},{"s":"ATP","t":2.7,"v":2.32},{"s":"ATP","t":2.85,"v":2.36},{"s":"ATP","t":3,"v":2.45},{"s":"ATP","t":3.15,"v":2.60},{"s":"ATP","t":3.3,"v":2.72},{"s":"ATP","t":3.45,"v":2.78},{"s":"ATP","t":3.6,"v":2.90},{"s":"ATP","t":3.75,"v":2.98},{"s":"ATP","t":3.9,"v":3.10},{"s":"ATP","t":4.05,"v":3.18},{"s":"ATP","t":4.2,"v":3.30},{"s":"ATP","t":4.35,"v":3.42},{"s":"ATP","t":4.5,"v":3.52},{"s":"ATP","t":4.65,"v":3.62},{"s":"ATP","t":4.8,"v":3.72},{"s":"ATP","t":4.95,"v":3.78},{"s":"ATP","t":5.1,"v":3.92},{"s":"ATP","t":5.25,"v":4.05},{"s":"ATP","t":5.4,"v":4.02},{"s":"ATP","t":5.55,"v":4.18},{"s":"ATP","t":5.7,"v":4.26}
],
"D":[
{"s":"Basal","t":0,"v":0.95},{"s":"Basal","t":0.15,"v":1.00},{"s":"Basal","t":0.3,"v":1.00},{"s":"Basal","t":0.45,"v":1.05},{"s":"Basal","t":0.6,"v":1.00},{"s":"Basal","t":0.75,"v":1.05},{"s":"Basal","t":0.9,"v":1.00},{"s":"Basal","t":1.05,"v":1.05},{"s":"Basal","t":1.2,"v":1.10},{"s":"Basal","t":1.35,"v":1.10},{"s":"Basal","t":1.5,"v":1.15},{"s":"Basal","t":1.65,"v":1.10},{"s":"Basal","t":1.8,"v":1.15},{"s":"Basal","t":1.95,"v":1.20},{"s":"Basal","t":2.1,"v":1.20},{"s":"Basal","t":2.25,"v":1.15},{"s":"Basal","t":2.4,"v":1.20},{"s":"Basal","t":2.55,"v":1.25},{"s":"Basal","t":2.7,"v":1.20},{"s":"Basal","t":2.85,"v":1.25},{"s":"Basal","t":3,"v":1.35},{"s":"Basal","t":3.15,"v":1.25},{"s":"Basal","t":3.3,"v":1.30},{"s":"Basal","t":3.45,"v":1.30},{"s":"Basal","t":3.6,"v":1.35},{"s":"Basal","t":3.75,"v":1.30},{"s":"Basal","t":3.9,"v":1.35},{"s":"Basal","t":4.05,"v":1.40},{"s":"Basal","t":4.2,"v":1.35},{"s":"Basal","t":4.35,"v":1.40},{"s":"Basal","t":4.5,"v":1.40},{"s":"Basal","t":4.65,"v":1.45},{"s":"Basal","t":4.8,"v":1.40},{"s":"Basal","t":4.95,"v":1.45},{"s":"Basal","t":5.1,"v":1.50},{"s":"Basal","t":5.25,"v":1.55},{"s":"Basal","t":5.4,"v":1.55},{"s":"Basal","t":5.55,"v":1.60},{"s":"Basal","t":5.7,"v":1.60},{"s":"Basal","t":5.85,"v":1.65},{"s":"Basal","t":6,"v":1.65},
{"s":"ATP + AZ10","t":0,"v":1.00},{"s":"ATP + AZ10","t":0.15,"v":1.05},{"s":"ATP + AZ10","t":0.3,"v":1.00},{"s":"ATP + AZ10","t":0.45,"v":1.10},{"s":"ATP + AZ10","t":0.6,"v":1.10},{"s":"ATP + AZ10","t":0.75,"v":1.20},{"s":"ATP + AZ10","t":0.9,"v":1.40},{"s":"ATP + AZ10","t":1.05,"v":1.60},{"s":"ATP + AZ10","t":1.2,"v":1.80},{"s":"ATP + AZ10","t":1.35,"v":1.95},{"s":"ATP + AZ10","t":1.5,"v":2.05},{"s":"ATP + AZ10","t":1.65,"v":2.15},{"s":"ATP + AZ10","t":1.8,"v":2.25},{"s":"ATP + AZ10","t":1.95,"v":2.40},{"s":"ATP + AZ10","t":2.1,"v":2.50},{"s":"ATP + AZ10","t":2.25,"v":2.60},{"s":"ATP + AZ10","t":2.4,"v":2.65},{"s":"ATP + AZ10","t":2.55,"v":2.75},{"s":"ATP + AZ10","t":2.7,"v":2.85},{"s":"ATP + AZ10","t":2.85,"v":2.95},{"s":"ATP + AZ10","t":3,"v":3.05},{"s":"ATP + AZ10","t":3.15,"v":3.15},{"s":"ATP + AZ10","t":3.3,"v":3.30},{"s":"ATP + AZ10","t":3.45,"v":3.40},{"s":"ATP + AZ10","t":3.6,"v":3.55},{"s":"ATP + AZ10","t":3.75,"v":3.70},{"s":"ATP + AZ10","t":3.9,"v":3.85},{"s":"ATP + AZ10","t":4.05,"v":3.95},{"s":"ATP + AZ10","t":4.2,"v":4.10},{"s":"ATP + AZ10","t":4.35,"v":4.20},{"s":"ATP + AZ10","t":4.5,"v":4.30},{"s":"ATP + AZ10","t":4.65,"v":4.45},{"s":"ATP + AZ10","t":4.8,"v":4.55},{"s":"ATP + AZ10","t":4.95,"v":4.65},{"s":"ATP + AZ10","t":5.1,"v":4.75},{"s":"ATP + AZ10","t":5.25,"v":4.90},{"s":"ATP + AZ10","t":5.4,"v":5.00},{"s":"ATP + AZ10","t":5.55,"v":5.10},{"s":"ATP + AZ10","t":5.7,"v":5.25},{"s":"ATP + AZ10","t":5.85,"v":5.35},{"s":"ATP + AZ10","t":6,"v":5.40},
{"s":"BzATP","t":0,"v":1.00},{"s":"BzATP","t":0.15,"v":0.95},{"s":"BzATP","t":0.3,"v":1.05},{"s":"BzATP","t":0.45,"v":1.00},{"s":"BzATP","t":0.6,"v":1.10},{"s":"BzATP","t":0.75,"v":0.50},{"s":"BzATP","t":0.9,"v":1.45},{"s":"BzATP","t":1.05,"v":1.70},{"s":"BzATP","t":1.2,"v":1.90},{"s":"BzATP","t":1.35,"v":2.10},{"s":"BzATP","t":1.5,"v":2.30},{"s":"BzATP","t":1.65,"v":2.50},{"s":"BzATP","t":1.8,"v":2.70},{"s":"BzATP","t":1.95,"v":2.95},{"s":"BzATP","t":2.1,"v":3.15},{"s":"BzATP","t":2.25,"v":3.30},{"s":"BzATP","t":2.4,"v":3.50},{"s":"BzATP","t":2.55,"v":3.60},{"s":"BzATP","t":2.7,"v":3.80},{"s":"BzATP","t":2.85,"v":3.95},{"s":"BzATP","t":3,"v":4.05},{"s":"BzATP","t":3.15,"v":4.20},{"s":"BzATP","t":3.3,"v":4.30},{"s":"BzATP","t":3.45,"v":4.45},{"s":"BzATP","t":3.6,"v":4.55},{"s":"BzATP","t":3.75,"v":4.65},{"s":"BzATP","t":3.9,"v":4.80},{"s":"BzATP","t":4.05,"v":4.90},{"s":"BzATP","t":4.2,"v":5.05},{"s":"BzATP","t":4.35,"v":5.15},{"s":"BzATP","t":4.5,"v":5.30},{"s":"BzATP","t":4.65,"v":5.40},{"s":"BzATP","t":4.8,"v":5.50},{"s":"BzATP","t":4.95,"v":5.60},{"s":"BzATP","t":5.1,"v":5.70},{"s":"BzATP","t":5.25,"v":5.80},{"s":"BzATP","t":5.4,"v":5.90},{"s":"BzATP","t":5.55,"v":5.95},{"s":"BzATP","t":5.7,"v":6.05},{"s":"BzATP","t":5.85,"v":6.15},{"s":"BzATP","t":6,"v":6.25},
{"s":"ATP","t":0,"v":0.90},{"s":"ATP","t":0.15,"v":1.00},{"s":"ATP","t":0.3,"v":1.00},{"s":"ATP","t":0.45,"v":1.05},{"s":"ATP","t":0.6,"v":1.10},{"s":"ATP","t":0.75,"v":1.20},{"s":"ATP","t":0.9,"v":1.45},{"s":"ATP","t":1.05,"v":1.70},{"s":"ATP","t":1.2,"v":1.95},{"s":"ATP","t":1.35,"v":2.15},{"s":"ATP","t":1.5,"v":2.35},{"s":"ATP","t":1.65,"v":2.60},{"s":"ATP","t":1.8,"v":2.80},{"s":"ATP","t":1.95,"v":3.05},{"s":"ATP","t":2.1,"v":3.25},{"s":"ATP","t":2.25,"v":3.45},{"s":"ATP","t":2.4,"v":3.65},{"s":"ATP","t":2.55,"v":3.85},{"s":"ATP","t":2.7,"v":4.10},{"s":"ATP","t":2.85,"v":4.30},{"s":"ATP","t":3,"v":4.50},{"s":"ATP","t":3.15,"v":4.75},{"s":"ATP","t":3.3,"v":4.95},{"s":"ATP","t":3.45,"v":5.15},{"s":"ATP","t":3.6,"v":5.40},{"s":"ATP","t":3.75,"v":5.65},{"s":"ATP","t":3.9,"v":5.90},{"s":"ATP","t":4.05,"v":6.10},{"s":"ATP","t":4.2,"v":6.30},{"s":"ATP","t":4.35,"v":6.50},{"s":"ATP","t":4.5,"v":6.70},{"s":"ATP","t":4.65,"v":6.90},{"s":"ATP","t":4.8,"v":7.10},{"s":"ATP","t":4.95,"v":7.30},{"s":"ATP","t":5.1,"v":7.50},{"s":"ATP","t":5.25,"v":7.75},{"s":"ATP","t":5.4,"v":7.95},{"s":"ATP","t":5.55,"v":8.15},{"s":"ATP","t":5.7,"v":8.40},{"s":"ATP","t":5.85,"v":8.65},{"s":"ATP","t":6,"v":8.85}
],
"E":[
{"s":"Basal","t":0,"v":1.0},{"s":"Basal","t":0.15,"v":1.0},{"s":"Basal","t":0.3,"v":1.1},{"s":"Basal","t":0.45,"v":1.1},{"s":"Basal","t":0.6,"v":1.2},{"s":"Basal","t":0.75,"v":1.3},{"s":"Basal","t":0.9,"v":1.4},{"s":"Basal","t":1.05,"v":1.5},{"s":"Basal","t":1.2,"v":1.6},{"s":"Basal","t":1.35,"v":1.7},{"s":"Basal","t":1.5,"v":1.8},{"s":"Basal","t":1.65,"v":1.8},{"s":"Basal","t":1.8,"v":1.9},{"s":"Basal","t":1.95,"v":2.0},{"s":"Basal","t":2.1,"v":2.0},{"s":"Basal","t":2.25,"v":2.1},{"s":"Basal","t":2.4,"v":2.2},{"s":"Basal","t":2.55,"v":2.2},{"s":"Basal","t":2.7,"v":2.3},{"s":"Basal","t":2.85,"v":2.3},{"s":"Basal","t":3,"v":2.4},{"s":"Basal","t":3.15,"v":2.4},{"s":"Basal","t":3.3,"v":2.5},{"s":"Basal","t":3.45,"v":2.5},{"s":"Basal","t":3.6,"v":2.5},{"s":"Basal","t":3.75,"v":2.6},{"s":"Basal","t":3.9,"v":2.6},{"s":"Basal","t":4.05,"v":2.6},{"s":"Basal","t":4.2,"v":2.7},{"s":"Basal","t":4.35,"v":2.7},{"s":"Basal","t":4.5,"v":2.7},{"s":"Basal","t":4.65,"v":2.8},{"s":"Basal","t":4.8,"v":2.8},{"s":"Basal","t":4.95,"v":2.8},{"s":"Basal","t":5.1,"v":2.8},{"s":"Basal","t":5.25,"v":2.9},{"s":"Basal","t":5.4,"v":2.9},{"s":"Basal","t":5.55,"v":2.9},{"s":"Basal","t":5.7,"v":2.9},{"s":"Basal","t":5.85,"v":3.0},{"s":"Basal","t":6,"v":2.9},
{"s":"10 µM","t":0,"v":1.0},{"s":"10 µM","t":0.15,"v":1.0},{"s":"10 µM","t":0.3,"v":1.1},{"s":"10 µM","t":0.45,"v":1.1},{"s":"10 µM","t":0.6,"v":1.2},{"s":"10 µM","t":0.75,"v":1.3},{"s":"10 µM","t":0.9,"v":1.4},{"s":"10 µM","t":1.05,"v":1.6},{"s":"10 µM","t":1.2,"v":1.8},{"s":"10 µM","t":1.35,"v":2.0},{"s":"10 µM","t":1.5,"v":2.1},{"s":"10 µM","t":1.65,"v":2.3},{"s":"10 µM","t":1.8,"v":2.4},{"s":"10 µM","t":1.95,"v":2.5},{"s":"10 µM","t":2.1,"v":2.6},{"s":"10 µM","t":2.25,"v":2.7},{"s":"10 µM","t":2.4,"v":2.8},{"s":"10 µM","t":2.55,"v":2.9},{"s":"10 µM","t":2.7,"v":3.0},{"s":"10 µM","t":2.85,"v":3.0},{"s":"10 µM","t":3,"v":3.1},{"s":"10 µM","t":3.15,"v":3.2},{"s":"10 µM","t":3.3,"v":3.3},{"s":"10 µM","t":3.45,"v":3.3},{"s":"10 µM","t":3.6,"v":3.4},{"s":"10 µM","t":3.75,"v":3.5},{"s":"10 µM","t":3.9,"v":3.6},{"s":"10 µM","t":4.05,"v":3.7},{"s":"10 µM","t":4.2,"v":3.7},{"s":"10 µM","t":4.35,"v":3.8},{"s":"10 µM","t":4.5,"v":3.9},{"s":"10 µM","t":4.65,"v":4.0},{"s":"10 µM","t":4.8,"v":4.1},{"s":"10 µM","t":4.95,"v":4.2},{"s":"10 µM","t":5.1,"v":4.3},{"s":"10 µM","t":5.25,"v":4.3},{"s":"10 µM","t":5.4,"v":4.4},{"s":"10 µM","t":5.55,"v":4.5},{"s":"10 µM","t":5.7,"v":4.6},{"s":"10 µM","t":5.85,"v":4.6},{"s":"10 µM","t":6,"v":4.5},
{"s":"100 µM","t":0,"v":1.0},{"s":"100 µM","t":0.15,"v":1.1},{"s":"100 µM","t":0.3,"v":1.2},{"s":"100 µM","t":0.45,"v":1.3},{"s":"100 µM","t":0.6,"v":1.4},{"s":"100 µM","t":0.75,"v":1.5},{"s":"100 µM","t":0.9,"v":1.7},{"s":"100 µM","t":1.05,"v":2.0},{"s":"100 µM","t":1.2,"v":2.3},{"s":"100 µM","t":1.35,"v":2.5},{"s":"100 µM","t":1.5,"v":2.7},{"s":"100 µM","t":1.65,"v":2.9},{"s":"100 µM","t":1.8,"v":3.0},{"s":"100 µM","t":1.95,"v":3.2},{"s":"100 µM","t":2.1,"v":3.3},{"s":"100 µM","t":2.25,"v":3.4},{"s":"100 µM","t":2.4,"v":3.6},{"s":"100 µM","t":2.55,"v":3.7},{"s":"100 µM","t":2.7,"v":3.8},{"s":"100 µM","t":2.85,"v":4.0},{"s":"100 µM","t":3,"v":4.1},{"s":"100 µM","t":3.15,"v":4.2},{"s":"100 µM","t":3.3,"v":4.4},{"s":"100 µM","t":3.45,"v":4.5},{"s":"100 µM","t":3.6,"v":4.6},{"s":"100 µM","t":3.75,"v":4.7},{"s":"100 µM","t":3.9,"v":4.8},{"s":"100 µM","t":4.05,"v":5.0},{"s":"100 µM","t":4.2,"v":5.1},{"s":"100 µM","t":4.35,"v":5.2},{"s":"100 µM","t":4.5,"v":5.3},{"s":"100 µM","t":4.65,"v":5.4},{"s":"100 µM","t":4.8,"v":5.5},{"s":"100 µM","t":4.95,"v":5.6},{"s":"100 µM","t":5.1,"v":5.7},{"s":"100 µM","t":5.25,"v":5.8},{"s":"100 µM","t":5.4,"v":5.9},{"s":"100 µM","t":5.55,"v":6.0},{"s":"100 µM","t":5.7,"v":6.1},{"s":"100 µM","t":5.85,"v":6.2},{"s":"100 µM","t":6,"v":6.2},
{"s":"300 µM","t":0,"v":1.1},{"s":"300 µM","t":0.15,"v":1.3},{"s":"300 µM","t":0.3,"v":1.5},{"s":"300 µM","t":0.38,"v":2.3},{"s":"300 µM","t":0.6,"v":1.6},{"s":"300 µM","t":0.75,"v":1.9},{"s":"300 µM","t":0.86,"v":0.5},{"s":"300 µM","t":1.05,"v":3.3},{"s":"300 µM","t":1.2,"v":4.0},{"s":"300 µM","t":1.35,"v":4.4},{"s":"300 µM","t":1.5,"v":4.7},{"s":"300 µM","t":1.65,"v":5.1},{"s":"300 µM","t":1.8,"v":5.5},{"s":"300 µM","t":1.95,"v":5.8},{"s":"300 µM","t":2.1,"v":6.0},{"s":"300 µM","t":2.25,"v":6.5},{"s":"300 µM","t":2.4,"v":7.0},{"s":"300 µM","t":2.55,"v":7.1},{"s":"300 µM","t":2.7,"v":7.0},{"s":"300 µM","t":2.85,"v":7.3},{"s":"300 µM","t":3,"v":7.6},{"s":"300 µM","t":3.15,"v":7.8},{"s":"300 µM","t":3.3,"v":8.8},{"s":"300 µM","t":3.45,"v":8.6},{"s":"300 µM","t":3.6,"v":8.5},{"s":"300 µM","t":3.75,"v":8.8},{"s":"300 µM","t":3.9,"v":9.0},{"s":"300 µM","t":4.05,"v":9.3},{"s":"300 µM","t":4.2,"v":9.6},{"s":"300 µM","t":4.35,"v":10.3},{"s":"300 µM","t":4.5,"v":10.0},{"s":"300 µM","t":4.65,"v":10.1},{"s":"300 µM","t":4.8,"v":10.4},{"s":"300 µM","t":4.95,"v":10.9},{"s":"300 µM","t":5.1,"v":10.8},{"s":"300 µM","t":5.25,"v":11.0},{"s":"300 µM","t":5.4,"v":11.2},{"s":"300 µM","t":5.55,"v":11.5},{"s":"300 µM","t":5.7,"v":11.8},{"s":"300 µM","t":5.85,"v":11.7},{"s":"300 µM","t":5.97,"v":12.9},
{"s":"500 µM","t":0,"v":1.0},{"s":"500 µM","t":0.15,"v":1.1},{"s":"500 µM","t":0.3,"v":1.3},{"s":"500 µM","t":0.45,"v":1.4},{"s":"500 µM","t":0.6,"v":1.6},{"s":"500 µM","t":0.75,"v":1.8},{"s":"500 µM","t":0.9,"v":2.2},{"s":"500 µM","t":1.05,"v":3.0},{"s":"500 µM","t":1.2,"v":3.8},{"s":"500 µM","t":1.35,"v":4.6},{"s":"500 µM","t":1.5,"v":5.3},{"s":"500 µM","t":1.65,"v":6.0},{"s":"500 µM","t":1.8,"v":6.7},{"s":"500 µM","t":1.95,"v":7.4},{"s":"500 µM","t":2.1,"v":8.0},{"s":"500 µM","t":2.25,"v":8.7},{"s":"500 µM","t":2.4,"v":9.3},{"s":"500 µM","t":2.55,"v":10.0},{"s":"500 µM","t":2.7,"v":10.6},{"s":"500 µM","t":2.85,"v":11.4},{"s":"500 µM","t":3,"v":11.8},{"s":"500 µM","t":3.15,"v":12.3},{"s":"500 µM","t":3.3,"v":13.0},{"s":"500 µM","t":3.45,"v":13.6},{"s":"500 µM","t":3.6,"v":14.2},{"s":"500 µM","t":3.75,"v":14.7},{"s":"500 µM","t":3.9,"v":15.2},{"s":"500 µM","t":4.05,"v":15.8},{"s":"500 µM","t":4.2,"v":16.4},{"s":"500 µM","t":4.35,"v":17.0},{"s":"500 µM","t":4.5,"v":17.5},{"s":"500 µM","t":4.65,"v":18.0},{"s":"500 µM","t":4.8,"v":18.6},{"s":"500 µM","t":4.95,"v":19.3},{"s":"500 µM","t":5.1,"v":19.8},{"s":"500 µM","t":5.25,"v":20.3},{"s":"500 µM","t":5.4,"v":20.7},{"s":"500 µM","t":5.55,"v":20.9},{"s":"500 µM","t":5.7,"v":21.5},{"s":"500 µM","t":5.85,"v":22.0},{"s":"500 µM","t":6,"v":22.3},
{"s":"1 mM","t":0,"v":1.0},{"s":"1 mM","t":0.15,"v":1.2},{"s":"1 mM","t":0.3,"v":1.4},{"s":"1 mM","t":0.45,"v":1.5},{"s":"1 mM","t":0.6,"v":1.7},{"s":"1 mM","t":0.75,"v":2.0},{"s":"1 mM","t":0.9,"v":2.8},{"s":"1 mM","t":1.05,"v":4.5},{"s":"1 mM","t":1.2,"v":6.0},{"s":"1 mM","t":1.35,"v":7.3},{"s":"1 mM","t":1.5,"v":8.5},{"s":"1 mM","t":1.65,"v":9.6},{"s":"1 mM","t":1.8,"v":10.6},{"s":"1 mM","t":1.95,"v":11.7},{"s":"1 mM","t":2.1,"v":12.7},{"s":"1 mM","t":2.25,"v":13.6},{"s":"1 mM","t":2.4,"v":14.6},{"s":"1 mM","t":2.55,"v":15.6},{"s":"1 mM","t":2.7,"v":16.6},{"s":"1 mM","t":2.85,"v":17.5},{"s":"1 mM","t":3,"v":18.4},{"s":"1 mM","t":3.15,"v":19.3},{"s":"1 mM","t":3.3,"v":20.2},{"s":"1 mM","t":3.45,"v":21.0},{"s":"1 mM","t":3.6,"v":21.9},{"s":"1 mM","t":3.75,"v":22.5},{"s":"1 mM","t":3.9,"v":24.0},{"s":"1 mM","t":4.05,"v":24.6},{"s":"1 mM","t":4.2,"v":25.4},{"s":"1 mM","t":4.35,"v":26.6},{"s":"1 mM","t":4.5,"v":26.9},{"s":"1 mM","t":4.65,"v":27.8},{"s":"1 mM","t":4.8,"v":28.6},{"s":"1 mM","t":4.95,"v":29.3},{"s":"1 mM","t":5.1,"v":30.0},{"s":"1 mM","t":5.25,"v":30.9},{"s":"1 mM","t":5.4,"v":31.4},{"s":"1 mM","t":5.55,"v":31.6},{"s":"1 mM","t":5.7,"v":33.2},{"s":"1 mM","t":5.85,"v":34.0},{"s":"1 mM","t":6,"v":34.6},{"s":"1 mM","t":6.12,"v":35.5}
],
"F":[
{"c":"Basal","m":1.0,"lo":1.0,"hi":1.0},{"c":"10 µM","m":1.07,"lo":1.03,"hi":1.11},{"c":"100 µM","m":1.57,"lo":1.40,"hi":1.73},{"c":"300 µM","m":1.63,"lo":1.49,"hi":1.77},{"c":"500 µM","m":4.87,"lo":4.07,"hi":5.65},{"c":"1 mM","m":5.74,"lo":5.10,"hi":6.35}
],
"Fb":[
{"x":0,"x2":0,"y":1.65,"y2":7.0},{"x":0,"x2":4.5,"y":7.0,"y2":7.0},{"x":4.5,"x2":4.5,"y":7.0,"y2":6.79},{"x":4,"x2":5,"y":6.79,"y2":6.79},{"x":4,"x2":4,"y":6.79,"y2":6.58},{"x":5,"x2":5,"y":6.79,"y2":6.58}
],
"G":[
{"s":"Serum","t":0.5,"v":34},{"s":"Serum","t":0.67,"v":33},{"s":"Serum","t":0.83,"v":32},{"s":"Serum","t":1,"v":32},{"s":"Serum","t":1.16,"v":33},{"s":"Serum","t":1.33,"v":34},{"s":"Serum","t":1.5,"v":33},{"s":"Serum","t":1.66,"v":33},{"s":"Serum","t":1.83,"v":32},{"s":"Serum","t":1.99,"v":33},{"s":"Serum","t":2.16,"v":34},{"s":"Serum","t":2.33,"v":34},{"s":"Serum","t":2.49,"v":33},{"s":"Serum","t":2.66,"v":33},{"s":"Serum","t":2.82,"v":32},{"s":"Serum","t":2.99,"v":33},{"s":"Serum","t":3.16,"v":31},{"s":"Serum","t":3.32,"v":32},{"s":"Serum","t":3.49,"v":33},{"s":"Serum","t":3.65,"v":32},{"s":"Serum","t":3.82,"v":33},{"s":"Serum","t":3.99,"v":32},{"s":"Serum","t":4.15,"v":32},{"s":"Serum","t":4.32,"v":31},{"s":"Serum","t":4.48,"v":32},{"s":"Serum","t":4.65,"v":33},{"s":"Serum","t":4.82,"v":31},{"s":"Serum","t":4.98,"v":32},{"s":"Serum","t":5.15,"v":30},{"s":"Serum","t":5.31,"v":31},{"s":"Serum","t":5.48,"v":32},{"s":"Serum","t":5.65,"v":31},{"s":"Serum","t":5.81,"v":32},{"s":"Serum","t":5.98,"v":33},{"s":"Serum","t":6.14,"v":31},{"s":"Serum","t":6.31,"v":32},{"s":"Serum","t":6.48,"v":31},{"s":"Serum","t":6.64,"v":36},
{"s":"CytD","t":0.5,"v":29},{"s":"CytD","t":0.58,"v":39},{"s":"CytD","t":0.75,"v":40},{"s":"CytD","t":1,"v":44},{"s":"CytD","t":1.16,"v":58},{"s":"CytD","t":1.33,"v":60},{"s":"CytD","t":1.5,"v":62},{"s":"CytD","t":1.66,"v":63},{"s":"CytD","t":1.83,"v":64},{"s":"CytD","t":1.99,"v":64},{"s":"CytD","t":2.16,"v":65},{"s":"CytD","t":2.33,"v":66},{"s":"CytD","t":2.49,"v":67},{"s":"CytD","t":2.66,"v":66},{"s":"CytD","t":2.82,"v":69},{"s":"CytD","t":2.99,"v":68},{"s":"CytD","t":3.16,"v":69},{"s":"CytD","t":3.32,"v":70},{"s":"CytD","t":3.49,"v":70},{"s":"CytD","t":3.65,"v":69},{"s":"CytD","t":3.82,"v":69},{"s":"CytD","t":3.99,"v":68},{"s":"CytD","t":4.15,"v":67},{"s":"CytD","t":4.32,"v":68},{"s":"CytD","t":4.48,"v":69},{"s":"CytD","t":4.65,"v":69},{"s":"CytD","t":4.82,"v":70},{"s":"CytD","t":4.98,"v":71},{"s":"CytD","t":5.15,"v":71},{"s":"CytD","t":5.31,"v":72},{"s":"CytD","t":5.48,"v":71},{"s":"CytD","t":5.65,"v":72},{"s":"CytD","t":5.81,"v":71},{"s":"CytD","t":5.98,"v":72},{"s":"CytD","t":6.14,"v":71},{"s":"CytD","t":6.31,"v":72},{"s":"CytD","t":6.48,"v":74},{"s":"CytD","t":6.64,"v":76},
{"s":"PFA","t":0.5,"v":46},{"s":"PFA","t":0.67,"v":48},{"s":"PFA","t":0.83,"v":50},{"s":"PFA","t":1,"v":54},{"s":"PFA","t":1.16,"v":58},{"s":"PFA","t":1.33,"v":60},{"s":"PFA","t":1.5,"v":62},{"s":"PFA","t":1.66,"v":63},{"s":"PFA","t":1.83,"v":65},{"s":"PFA","t":1.99,"v":66},{"s":"PFA","t":2.16,"v":67},{"s":"PFA","t":2.33,"v":68},{"s":"PFA","t":2.49,"v":70},{"s":"PFA","t":2.66,"v":72},{"s":"PFA","t":2.82,"v":74},{"s":"PFA","t":2.99,"v":74},{"s":"PFA","t":3.16,"v":75},{"s":"PFA","t":3.32,"v":76},{"s":"PFA","t":3.49,"v":78},{"s":"PFA","t":3.65,"v":79},{"s":"PFA","t":3.82,"v":79},{"s":"PFA","t":3.99,"v":80},{"s":"PFA","t":4.15,"v":81},{"s":"PFA","t":4.32,"v":82},{"s":"PFA","t":4.48,"v":83},{"s":"PFA","t":4.65,"v":82},{"s":"PFA","t":4.82,"v":84},{"s":"PFA","t":4.98,"v":85},{"s":"PFA","t":5.15,"v":84},{"s":"PFA","t":5.31,"v":85},{"s":"PFA","t":5.48,"v":86},{"s":"PFA","t":5.65,"v":86},{"s":"PFA","t":5.81,"v":87},{"s":"PFA","t":5.98,"v":88},{"s":"PFA","t":6.14,"v":88},{"s":"PFA","t":6.31,"v":87},{"s":"PFA","t":6.48,"v":88},{"s":"PFA","t":6.64,"v":85},
{"s":"ATP","t":0,"v":0},{"s":"ATP","t":0.12,"v":1},{"s":"ATP","t":0.24,"v":0.5},{"s":"ATP","t":0.36,"v":0},
{"s":"ATP","t":0.5,"v":48},{"s":"ATP","t":0.67,"v":52},{"s":"ATP","t":0.83,"v":54},{"s":"ATP","t":1,"v":55},{"s":"ATP","t":1.16,"v":58},{"s":"ATP","t":1.33,"v":60},{"s":"ATP","t":1.5,"v":64},{"s":"ATP","t":1.66,"v":64},{"s":"ATP","t":1.83,"v":65},{"s":"ATP","t":1.99,"v":66},{"s":"ATP","t":2.16,"v":69},{"s":"ATP","t":2.33,"v":67},{"s":"ATP","t":2.49,"v":68},{"s":"ATP","t":2.66,"v":70},{"s":"ATP","t":2.82,"v":71},{"s":"ATP","t":2.99,"v":71},{"s":"ATP","t":3.16,"v":72},{"s":"ATP","t":3.32,"v":72},{"s":"ATP","t":3.49,"v":74},{"s":"ATP","t":3.65,"v":74},{"s":"ATP","t":3.82,"v":74},{"s":"ATP","t":3.99,"v":75},{"s":"ATP","t":4.15,"v":77},{"s":"ATP","t":4.32,"v":76},{"s":"ATP","t":4.48,"v":74},{"s":"ATP","t":4.65,"v":76},{"s":"ATP","t":4.82,"v":77},{"s":"ATP","t":4.98,"v":78},{"s":"ATP","t":5.15,"v":78},{"s":"ATP","t":5.31,"v":77},{"s":"ATP","t":5.48,"v":74},{"s":"ATP","t":5.65,"v":76},{"s":"ATP","t":5.81,"v":78},{"s":"ATP","t":5.98,"v":80},{"s":"ATP","t":6.14,"v":81},{"s":"ATP","t":6.31,"v":80},{"s":"ATP","t":6.48,"v":78},{"s":"ATP","t":6.64,"v":74},
{"s":"Basal","t":0,"v":0},{"s":"Basal","t":0.12,"v":0.5},{"s":"Basal","t":0.24,"v":0},{"s":"Basal","t":0.36,"v":1},
{"s":"Basal","t":0.5,"v":70},{"s":"Basal","t":0.67,"v":75},{"s":"Basal","t":0.83,"v":81},{"s":"Basal","t":1,"v":86},{"s":"Basal","t":1.16,"v":90},{"s":"Basal","t":1.33,"v":95},{"s":"Basal","t":1.5,"v":97},{"s":"Basal","t":1.66,"v":99},{"s":"Basal","t":1.83,"v":102},{"s":"Basal","t":1.99,"v":105},{"s":"Basal","t":2.16,"v":107},{"s":"Basal","t":2.33,"v":110},{"s":"Basal","t":2.49,"v":110},{"s":"Basal","t":2.66,"v":110},{"s":"Basal","t":2.82,"v":111},{"s":"Basal","t":2.99,"v":115},{"s":"Basal","t":3.16,"v":119},{"s":"Basal","t":3.32,"v":121},{"s":"Basal","t":3.49,"v":120},{"s":"Basal","t":3.65,"v":121},{"s":"Basal","t":3.82,"v":125},{"s":"Basal","t":3.99,"v":122},{"s":"Basal","t":4.15,"v":125},{"s":"Basal","t":4.32,"v":125},{"s":"Basal","t":4.48,"v":126},{"s":"Basal","t":4.65,"v":127},{"s":"Basal","t":4.82,"v":129},{"s":"Basal","t":4.98,"v":130},{"s":"Basal","t":5.15,"v":131},{"s":"Basal","t":5.31,"v":133},{"s":"Basal","t":5.48,"v":133},{"s":"Basal","t":5.65,"v":134},{"s":"Basal","t":5.81,"v":137},{"s":"Basal","t":5.98,"v":139},{"s":"Basal","t":6.14,"v":140},{"s":"Basal","t":6.31,"v":138},{"s":"Basal","t":6.48,"v":140},{"s":"Basal","t":6.64,"v":137}
],
"H":[
{"s":"Serum","t":0.3,"v":4},
{"s":"Serum","t":0.47,"v":10},{"s":"Serum","t":0.64,"v":8},{"s":"Serum","t":0.8,"v":35},{"s":"Serum","t":0.97,"v":40},{"s":"Serum","t":1.14,"v":43},{"s":"Serum","t":1.3,"v":46},{"s":"Serum","t":1.47,"v":48},{"s":"Serum","t":1.64,"v":50},{"s":"Serum","t":1.8,"v":52},{"s":"Serum","t":1.97,"v":53},{"s":"Serum","t":2.14,"v":55},{"s":"Serum","t":2.3,"v":56},{"s":"Serum","t":2.47,"v":57},{"s":"Serum","t":2.64,"v":58},{"s":"Serum","t":2.8,"v":59},{"s":"Serum","t":2.97,"v":60},{"s":"Serum","t":3.14,"v":60},{"s":"Serum","t":3.3,"v":61},{"s":"Serum","t":3.47,"v":61},{"s":"Serum","t":3.64,"v":62},{"s":"Serum","t":3.8,"v":61},{"s":"Serum","t":3.97,"v":60},{"s":"Serum","t":4.14,"v":59},{"s":"Serum","t":4.3,"v":58},{"s":"Serum","t":4.47,"v":57},{"s":"Serum","t":4.64,"v":56},{"s":"Serum","t":4.8,"v":56},{"s":"Serum","t":4.97,"v":55},{"s":"Serum","t":5.14,"v":56},{"s":"Serum","t":5.3,"v":55},{"s":"Serum","t":5.47,"v":55},{"s":"Serum","t":5.64,"v":55},{"s":"Serum","t":5.8,"v":56},{"s":"Serum","t":5.97,"v":55},{"s":"Serum","t":6.14,"v":55},{"s":"Serum","t":6.3,"v":55},{"s":"Serum","t":6.47,"v":55},{"s":"Serum","t":6.64,"v":54},
{"s":"PFA","t":0.47,"v":26},{"s":"PFA","t":0.64,"v":38},{"s":"PFA","t":0.8,"v":42},{"s":"PFA","t":0.97,"v":45},{"s":"PFA","t":1.14,"v":48},{"s":"PFA","t":1.3,"v":50},{"s":"PFA","t":1.47,"v":52},{"s":"PFA","t":1.64,"v":54},{"s":"PFA","t":1.8,"v":56},{"s":"PFA","t":1.97,"v":58},{"s":"PFA","t":2.14,"v":60},{"s":"PFA","t":2.3,"v":62},{"s":"PFA","t":2.47,"v":63},{"s":"PFA","t":2.64,"v":65},{"s":"PFA","t":2.8,"v":66},{"s":"PFA","t":2.97,"v":68},{"s":"PFA","t":3.14,"v":69},{"s":"PFA","t":3.3,"v":70},{"s":"PFA","t":3.47,"v":71},{"s":"PFA","t":3.64,"v":72},{"s":"PFA","t":3.8,"v":73},{"s":"PFA","t":3.97,"v":74},{"s":"PFA","t":4.14,"v":75},{"s":"PFA","t":4.3,"v":76},{"s":"PFA","t":4.47,"v":77},{"s":"PFA","t":4.64,"v":78},{"s":"PFA","t":4.8,"v":79},{"s":"PFA","t":4.97,"v":80},{"s":"PFA","t":5.14,"v":81},{"s":"PFA","t":5.3,"v":82},{"s":"PFA","t":5.47,"v":83},{"s":"PFA","t":5.64,"v":84},{"s":"PFA","t":5.8,"v":85},{"s":"PFA","t":5.97,"v":86},{"s":"PFA","t":6.14,"v":87},{"s":"PFA","t":6.3,"v":88},{"s":"PFA","t":6.47,"v":89},{"s":"PFA","t":6.64,"v":91},
{"s":"ATP","t":0,"v":3},{"s":"ATP","t":0.15,"v":6},{"s":"ATP","t":0.3,"v":10},
{"s":"ATP","t":0.47,"v":44},{"s":"ATP","t":0.64,"v":50},{"s":"ATP","t":0.8,"v":55},{"s":"ATP","t":0.97,"v":58},{"s":"ATP","t":1.14,"v":61},{"s":"ATP","t":1.3,"v":64},{"s":"ATP","t":1.47,"v":66},{"s":"ATP","t":1.64,"v":68},{"s":"ATP","t":1.8,"v":71},{"s":"ATP","t":1.97,"v":73},{"s":"ATP","t":2.14,"v":76},{"s":"ATP","t":2.3,"v":78},{"s":"ATP","t":2.47,"v":80},{"s":"ATP","t":2.64,"v":83},{"s":"ATP","t":2.8,"v":85},{"s":"ATP","t":2.97,"v":87},{"s":"ATP","t":3.14,"v":90},{"s":"ATP","t":3.3,"v":92},{"s":"ATP","t":3.47,"v":94},{"s":"ATP","t":3.64,"v":96},{"s":"ATP","t":3.8,"v":98},{"s":"ATP","t":3.97,"v":100},{"s":"ATP","t":4.14,"v":102},{"s":"ATP","t":4.3,"v":104},{"s":"ATP","t":4.47,"v":106},{"s":"ATP","t":4.64,"v":108},{"s":"ATP","t":4.8,"v":110},{"s":"ATP","t":4.97,"v":112},{"s":"ATP","t":5.14,"v":114},{"s":"ATP","t":5.3,"v":116},{"s":"ATP","t":5.47,"v":118},{"s":"ATP","t":5.64,"v":120},{"s":"ATP","t":5.8,"v":122},{"s":"ATP","t":5.97,"v":124},{"s":"ATP","t":6.14,"v":126},{"s":"ATP","t":6.3,"v":128},{"s":"ATP","t":6.47,"v":131},{"s":"ATP","t":6.64,"v":128},
{"s":"CytD","t":0.47,"v":74},{"s":"CytD","t":0.64,"v":86},{"s":"CytD","t":0.8,"v":92},{"s":"CytD","t":0.97,"v":96},{"s":"CytD","t":1.14,"v":99},{"s":"CytD","t":1.3,"v":103},{"s":"CytD","t":1.47,"v":106},{"s":"CytD","t":1.64,"v":109},{"s":"CytD","t":1.8,"v":113},{"s":"CytD","t":1.97,"v":117},{"s":"CytD","t":2.14,"v":120},{"s":"CytD","t":2.3,"v":123},{"s":"CytD","t":2.47,"v":127},{"s":"CytD","t":2.64,"v":130},{"s":"CytD","t":2.8,"v":132},{"s":"CytD","t":2.97,"v":135},{"s":"CytD","t":3.14,"v":139},{"s":"CytD","t":3.3,"v":143},{"s":"CytD","t":3.47,"v":146},{"s":"CytD","t":3.64,"v":150},{"s":"CytD","t":3.8,"v":155},{"s":"CytD","t":3.97,"v":159},{"s":"CytD","t":4.14,"v":162},{"s":"CytD","t":4.3,"v":166},{"s":"CytD","t":4.47,"v":171},{"s":"CytD","t":4.64,"v":176},{"s":"CytD","t":4.8,"v":181},{"s":"CytD","t":4.97,"v":188},{"s":"CytD","t":5.14,"v":194},{"s":"CytD","t":5.3,"v":200},{"s":"CytD","t":5.47,"v":208},{"s":"CytD","t":5.64,"v":220},{"s":"CytD","t":5.8,"v":236},{"s":"CytD","t":5.97,"v":255},{"s":"CytD","t":6.14,"v":262},{"s":"CytD","t":6.3,"v":290},{"s":"CytD","t":6.47,"v":315},{"s":"CytD","t":6.64,"v":344},
{"s":"Basal","t":0,"v":2},{"s":"Basal","t":0.15,"v":4},{"s":"Basal","t":0.3,"v":7},
{"s":"Basal","t":0.47,"v":79},{"s":"Basal","t":0.64,"v":95},{"s":"Basal","t":0.8,"v":106},{"s":"Basal","t":0.97,"v":115},{"s":"Basal","t":1.14,"v":122},{"s":"Basal","t":1.3,"v":130},{"s":"Basal","t":1.47,"v":137},{"s":"Basal","t":1.64,"v":143},{"s":"Basal","t":1.8,"v":150},{"s":"Basal","t":1.97,"v":156},{"s":"Basal","t":2.14,"v":161},{"s":"Basal","t":2.3,"v":167},{"s":"Basal","t":2.47,"v":172},{"s":"Basal","t":2.64,"v":176},{"s":"Basal","t":2.8,"v":181},{"s":"Basal","t":2.97,"v":186},{"s":"Basal","t":3.14,"v":190},{"s":"Basal","t":3.3,"v":195},{"s":"Basal","t":3.47,"v":199},{"s":"Basal","t":3.64,"v":204},{"s":"Basal","t":3.8,"v":210},{"s":"Basal","t":3.97,"v":215},{"s":"Basal","t":4.14,"v":220},{"s":"Basal","t":4.3,"v":226},{"s":"Basal","t":4.47,"v":235},{"s":"Basal","t":4.64,"v":247},{"s":"Basal","t":4.8,"v":260},{"s":"Basal","t":4.97,"v":275},{"s":"Basal","t":5.14,"v":295},{"s":"Basal","t":5.3,"v":318},{"s":"Basal","t":5.47,"v":340},{"s":"Basal","t":5.64,"v":368},{"s":"Basal","t":5.8,"v":395},{"s":"Basal","t":5.97,"v":430},{"s":"Basal","t":6.14,"v":462},{"s":"Basal","t":6.3,"v":490},{"s":"Basal","t":6.47,"v":520},{"s":"Basal","t":6.64,"v":540}
]
},
"concat":[
{"width":208,"height":207,
 "layer":[
  {"data":{"name":"A"},"mark":{"type":"point","size":18,"stroke":"black","strokeWidth":0.8,"opacity":1},
   "encoding":{
    "x":{"field":"t","type":"quantitative","scale":{"domain":[-0.165,3.262],"nice":false,"zero":false},"axis":{"values":[0,1,2,3],"format":"d","title":"Time (min)","labelPadding":8}},
    "y":{"field":"v","type":"quantitative","scale":{"domain":[0.484,3.823],"nice":false,"zero":false},"axis":{"values":[1,1.5,2,2.5,3,3.5],"format":".1f","title":"Calcium Influx F/F0","titlePadding":15}},
    "shape":{"field":"s","type":"nominal","scale":{"domain":["BzATP","ATP","ATP + AZ10","ATP + A438","BzATP + AZ10","BzATP + A438","Basal"],"range":["square","triangle-up","M-1,0H1M0,-1V1","diamond","square","circle","M-0.8,-0.8L0.8,0.8M-0.8,0.8L0.8,-0.8"]},"legend":null},
    "fill":{"field":"s","type":"nominal","scale":{"domain":["BzATP","ATP","ATP + AZ10","ATP + A438","BzATP + AZ10","BzATP + A438","Basal"],"range":["black","black","transparent","white","white","white","transparent"]},"legend":null}
   }},
  {"data":{"values":[{}]},"mark":{"type":"text","text":"Hippocampal NPCs","font":"Open Sans","fontSize":17,"align":"center","baseline":"alphabetic"},"encoding":{"x":{"datum":1.573},"y":{"datum":3.876}}},
  {"data":{"values":[{}]},"mark":{"type":"point","shape":"square","size":210,"filled":false,"stroke":"black","strokeWidth":1.4,"opacity":1},"encoding":{"x":{"datum":-0.947},"y":{"datum":4.065}}},
  {"data":{"values":[{}]},"mark":{"type":"text","text":"A","font":"Liberation Sans","fontWeight":"bold","fontSize":14,"align":"center","baseline":"middle","dy":1},"encoding":{"x":{"datum":-0.947},"y":{"datum":4.065}}}
 ]},
{"width":207,"height":207,
 "layer":[
  {"data":{"name":"B"},"mark":{"type":"point","size":18,"stroke":"black","strokeWidth":0.8,"opacity":1},
   "encoding":{
    "x":{"field":"t","type":"quantitative","scale":{"domain":[-0.148,3.262],"nice":false,"zero":false},"axis":{"values":[0,1,2,3],"format":"d","title":"Time (min)","labelPadding":3}},
    "y":{"field":"v","type":"quantitative","scale":{"domain":[0.484,3.823],"nice":false,"zero":false},"axis":{"values":[1,1.5,2,2.5,3,3.5],"format":".1f","title":"Calcium Influx F/F0","titlePadding":15}},
    "shape":{"field":"s","type":"nominal","scale":{"domain":["BzATP","ATP","ATP + AZ10","ATP + A438","BzATP + AZ10","BzATP + A438","Basal"],"range":["square","triangle-up","M-1,0H1M0,-1V1","diamond","square","circle","M-0.8,-0.8L0.8,0.8M-0.8,0.8L0.8,-0.8"]},
     "legend":{"orient":"none","legendX":222,"legendY":30,"title":null,"symbolSize":40,"labelOffset":8,"labelFontSize":15.5,"rowPadding":6.5,"encode":{"symbols":{"update":{"stroke":{"value":"black"},"strokeWidth":{"value":1}}}}}},
    "fill":{"field":"s","type":"nominal","scale":{"domain":["BzATP","ATP","ATP + AZ10","ATP + A438","BzATP + AZ10","BzATP + A438","Basal"],"range":["black","black","transparent","white","white","white","transparent"]},
     "legend":{"orient":"none","legendX":222,"legendY":30,"title":null,"symbolSize":40,"labelOffset":8,"labelFontSize":15.5,"rowPadding":6.5,"encode":{"symbols":{"update":{"stroke":{"value":"black"},"strokeWidth":{"value":1}}}}}}
   }},
  {"data":{"values":[{}]},"mark":{"type":"text","text":"SVZ NPCs","font":"Open Sans","fontSize":17,"align":"center","baseline":"alphabetic"},"encoding":{"x":{"datum":1.746},"y":{"datum":3.876}}},
  {"data":{"values":[{}]},"mark":{"type":"point","shape":"square","size":210,"filled":false,"stroke":"black","strokeWidth":1.4,"opacity":1},"encoding":{"x":{"datum":-0.947},"y":{"datum":4.065}}},
  {"data":{"values":[{}]},"mark":{"type":"text","text":"B","font":"Liberation Sans","fontWeight":"bold","fontSize":14,"align":"center","baseline":"middle","dy":1},"encoding":{"x":{"datum":-0.947},"y":{"datum":4.065}}}
 ]},
{"width":210,"height":160,
 "layer":[
  {"data":{"name":"C"},"mark":{"type":"point","size":20,"stroke":"black","strokeWidth":0.8,"opacity":1},
   "encoding":{
    "x":{"field":"t","type":"quantitative","scale":{"domain":[-0.284,6.34],"nice":false,"zero":false},"axis":{"values":[0,2,4,6],"format":"d","title":"Time (min)","labelPadding":-2}},
    "y":{"field":"v","type":"quantitative","scale":{"domain":[0.487,4.59],"nice":false,"zero":false},"axis":{"values":[1,2,3,4],"format":"d","title":["Ethidium Bromide Uptake","F/F0"],"titleLineHeight":20,"titlePadding":6}},
    "shape":{"field":"s","type":"nominal","scale":{"domain":["ATP","BzATP","ATP + AZ10","Basal"],"range":["circle","circle","square","M-0.8,-0.8L0.8,0.8M-0.8,0.8L0.8,-0.8"]},"legend":null},
    "fill":{"field":"s","type":"nominal","scale":{"domain":["ATP","BzATP","ATP + AZ10","Basal"],"range":["black","white","black","transparent"]},"legend":null}
   }},
  {"data":{"values":[{}]},"mark":{"type":"text","text":"Hippocampal NPCs","font":"Open Sans","fontSize":17,"align":"center","baseline":"alphabetic"},"encoding":{"x":{"datum":2.902},"y":{"datum":4.641}}},
  {"data":{"values":[{}]},"mark":{"type":"point","shape":"square","size":210,"filled":false,"stroke":"black","strokeWidth":1.4,"opacity":1},"encoding":{"x":{"datum":-1.577},"y":{"datum":4.987}}},
  {"data":{"values":[{}]},"mark":{"type":"text","text":"C","font":"Liberation Sans","fontWeight":"bold","fontSize":14,"align":"center","baseline":"middle","dy":1},"encoding":{"x":{"datum":-1.577},"y":{"datum":4.987}}}
 ]},
{"width":210,"height":160,
 "layer":[
  {"data":{"name":"D"},"mark":{"type":"point","size":20,"stroke":"black","strokeWidth":0.8,"opacity":1},
   "encoding":{
    "x":{"field":"t","type":"quantitative","scale":{"domain":[-0.292,6.526],"nice":false,"zero":false},"axis":{"values":[0,2,4,6],"format":"d","title":"Time (min)","labelPadding":-2}},
    "y":{"field":"v","type":"quantitative","scale":{"domain":[-0.033,10.46],"nice":false,"zero":false},"axis":{"values":[2,4,6,8,10],"format":"d","labelOverlap":false,"title":["Ethidium Bromide Uptake","F/F0"],"titleLineHeight":20,"titlePadding":13}},
    "shape":{"field":"s","type":"nominal","scale":{"domain":["ATP","BzATP","ATP + AZ10","Basal"],"range":["circle","circle","square","M-0.8,-0.8L0.8,0.8M-0.8,0.8L0.8,-0.8"]},
     "legend":{"orient":"none","legendX":222,"legendY":25,"title":null,"symbolSize":40,"labelOffset":10,"rowPadding":6.5,"encode":{"symbols":{"update":{"stroke":{"value":"black"},"strokeWidth":{"value":1}}}}}},
    "fill":{"field":"s","type":"nominal","scale":{"domain":["ATP","BzATP","ATP + AZ10","Basal"],"range":["black","white","black","transparent"]},
     "legend":{"orient":"none","legendX":222,"legendY":25,"title":null,"symbolSize":40,"labelOffset":10,"rowPadding":6.5,"encode":{"symbols":{"update":{"stroke":{"value":"black"},"strokeWidth":{"value":1}}}}}}
   }},
  {"data":{"values":[{}]},"mark":{"type":"text","text":"SVZ NPCs","font":"Open Sans","fontSize":17,"align":"center","baseline":"alphabetic"},"encoding":{"x":{"datum":3.214},"y":{"datum":10.656}}},
  {"data":{"values":[{}]},"mark":{"type":"point","shape":"square","size":210,"filled":false,"stroke":"black","strokeWidth":1.4,"opacity":1},"encoding":{"x":{"datum":-1.997},"y":{"datum":11.475}}},
  {"data":{"values":[{}]},"mark":{"type":"text","text":"D","font":"Liberation Sans","fontWeight":"bold","fontSize":14,"align":"center","baseline":"middle","dy":1},"encoding":{"x":{"datum":-1.997},"y":{"datum":11.475}}}
 ]},
{"width":210,"height":170,
 "layer":[
  {"data":{"name":"E"},"mark":{"type":"point","size":18,"stroke":"black","strokeWidth":0.8,"opacity":1},
   "encoding":{
    "x":{"field":"t","type":"quantitative","scale":{"domain":[-0.314,6.29],"nice":false,"zero":false},"axis":{"values":[0,2,4,6],"format":"d","title":"Time (min)","labelPadding":5}},
    "y":{"field":"v","type":"quantitative","scale":{"domain":[0,39.4],"nice":false,"zero":false},"axis":{"values":[0,5,10,15,20,25,30,35],"format":"d","labelOverlap":false,"title":"Ethidium Bromide Uptake","titlePadding":15}},
    "shape":{"field":"s","type":"nominal","scale":{"domain":["1 mM","500 µM","300 µM","100 µM","10 µM","Basal"],"range":["square","square","circle","circle","diamond","M-1,-0.4H1V0.4H-1Z"]},
     "legend":{"orient":"none","legendX":228,"legendY":27,"title":"ATP","titleAnchor":"middle","titlePadding":6,"symbolSize":40,"labelOffset":9,"rowPadding":6,"encode":{"symbols":{"update":{"stroke":{"value":"black"},"strokeWidth":{"value":1}}}}}},
    "fill":{"field":"s","type":"nominal","scale":{"domain":["1 mM","500 µM","300 µM","100 µM","10 µM","Basal"],"range":["white","black","white","black","white","black"]},
     "legend":{"orient":"none","legendX":228,"legendY":27,"title":"ATP","titleAnchor":"middle","titlePadding":6,"symbolSize":40,"labelOffset":9,"rowPadding":6,"encode":{"symbols":{"update":{"stroke":{"value":"black"},"strokeWidth":{"value":1}}}}}}
   }},
  {"data":{"values":[{}]},"mark":{"type":"text","text":"Hippocampal NPCs","font":"Open Sans","fontSize":17,"align":"center","baseline":"alphabetic"},"encoding":{"x":{"datum":2.877},"y":{"datum":38.21}}},
  {"data":{"values":[{}]},"mark":{"type":"point","shape":"square","size":210,"filled":false,"stroke":"black","strokeWidth":1.4,"opacity":1},"encoding":{"x":{"datum":-1.588},"y":{"datum":42.23}}},
  {"data":{"values":[{}]},"mark":{"type":"text","text":"E","font":"Liberation Sans","fontWeight":"bold","fontSize":14,"align":"center","baseline":"middle","dy":1},"encoding":{"x":{"datum":-1.588},"y":{"datum":42.23}}}
 ]},
{"width":344,"height":170,
 "layer":[
  {"layer":[
    {"data":{"name":"F"},"mark":{"type":"bar","fill":"#e3e3e3","stroke":"black","strokeWidth":1.2},
     "encoding":{
      "x":{"field":"c","type":"nominal","sort":null,"scale":{"range":[106,344],"paddingInner":0.35,"paddingOuter":0.527},"axis":{"title":null,"labelAngle":45,"labelAlign":"left","labelBaseline":"middle","labelPadding":3,"labelFontSize":12}},
      "y":{"field":"m","type":"quantitative","scale":{"domain":[0,7],"nice":false,"zero":true},"axis":{"values":[0,2,4,6],"format":"d","offset":-106,"title":["Ethidium Bromide Uptake","F/F6 (final time point)"],"titleLineHeight":21,"titlePadding":8}}
     }},
    {"data":{"name":"F"},"transform":[{"filter":"datum.c != 'Basal'"}],"mark":{"type":"rule","color":"black","strokeWidth":1.2},
     "encoding":{"x":{"field":"c","type":"nominal","sort":null},"y":{"field":"lo","type":"quantitative"},"y2":{"field":"hi"}}},
    {"data":{"name":"F"},"transform":[{"filter":"datum.c != 'Basal'"}],"mark":{"type":"tick","color":"black","size":10,"thickness":1.2,"opacity":1,"orient":"horizontal"},
     "encoding":{"x":{"field":"c","type":"nominal","sort":null},"y":{"field":"lo","type":"quantitative"}}},
    {"data":{"name":"F"},"transform":[{"filter":"datum.c != 'Basal'"}],"mark":{"type":"tick","color":"black","size":10,"thickness":1.2,"opacity":1,"orient":"horizontal"},
     "encoding":{"x":{"field":"c","type":"nominal","sort":null},"y":{"field":"hi","type":"quantitative"}}}
  ]},
  {"layer":[
    {"data":{"name":"Fb"},"mark":{"type":"rule","color":"black","strokeWidth":1},
     "encoding":{"x":{"field":"x","type":"quantitative","scale":{"domain":[-3.837,5.854],"nice":false,"zero":false},"axis":null},"x2":{"field":"x2"},"y":{"field":"y","type":"quantitative"},"y2":{"field":"y2"}}},
    {"data":{"values":[{}]},"mark":{"type":"text","text":"*","fontSize":18,"font":"Open Sans","align":"center","baseline":"middle"},"encoding":{"x":{"datum":2.35},"y":{"datum":7.25}}},
    {"data":{"values":[{}]},"mark":{"type":"point","shape":"square","size":210,"filled":false,"stroke":"black","strokeWidth":1.4,"opacity":1},"encoding":{"x":{"datum":-2.287},"y":{"datum":7.37}}},
    {"data":{"values":[{}]},"mark":{"type":"text","text":"F","font":"Liberation Sans","fontWeight":"bold","fontSize":14,"align":"center","baseline":"middle","dy":1},"encoding":{"x":{"datum":-2.287},"y":{"datum":7.37}}}
  ]}
 ],
 "resolve":{"scale":{"x":"independent"}}
},
{"width":207,"height":178,
 "layer":[
  {"data":{"name":"G"},"mark":{"type":"point","size":28,"stroke":"black","strokeWidth":0.8,"opacity":1},
   "encoding":{
    "x":{"field":"t","type":"quantitative","scale":{"domain":[-0.336,7.388],"nice":false,"zero":false},"axis":{"values":[0,2,4,6],"format":"d","title":"Time (min)","labelPadding":3}},
    "y":{"field":"v","type":"quantitative","scale":{"domain":[0,154.4],"nice":false,"zero":false},"axis":{"values":[0,50,100,150],"format":"d","title":"YG Bead Fluorescence","titlePadding":9}},
    "shape":{"field":"s","type":"nominal","scale":{"domain":["Basal","PFA","CytD","ATP","Serum"],"range":["square","square","triangle-up","circle","circle"]},"legend":null},
    "fill":{"field":"s","type":"nominal","scale":{"domain":["Basal","PFA","CytD","ATP","Serum"],"range":["black","white","white","black","white"]},"legend":null}
   }},
  {"data":{"values":[{}]},"mark":{"type":"text","text":"Hippocampal NPCs","font":"Open Sans","fontSize":17,"align":"center","baseline":"alphabetic"},"encoding":{"x":{"datum":3.731},"y":{"datum":155.2}}},
  {"data":{"values":[{}]},"mark":{"type":"point","shape":"square","size":210,"filled":false,"stroke":"black","strokeWidth":1.4,"opacity":1},"encoding":{"x":{"datum":-1.866},"y":{"datum":165.7}}},
  {"data":{"values":[{}]},"mark":{"type":"text","text":"G","font":"Liberation Sans","fontWeight":"bold","fontSize":14,"align":"center","baseline":"middle","dy":1},"encoding":{"x":{"datum":-1.866},"y":{"datum":165.7}}}
 ]},
{"width":199,"height":178,
 "layer":[
  {"data":{"name":"H"},"mark":{"type":"point","size":28,"stroke":"black","strokeWidth":0.8,"opacity":1},
   "encoding":{
    "x":{"field":"t","type":"quantitative","scale":{"domain":[-0.349,7.364],"nice":false,"zero":false},"axis":{"values":[0,2,4,6],"format":"d","title":"Time (min)","labelPadding":3}},
    "y":{"field":"v","type":"quantitative","scale":{"domain":[0,667],"nice":false,"zero":false},"axis":{"values":[0,100,200,300,400,500,600],"format":"d","labelOverlap":false,"title":"YG Bead Fluorescence","titlePadding":12}},
    "shape":{"field":"s","type":"nominal","scale":{"domain":["Basal","PFA","CytD","ATP","Serum"],"range":["square","square","triangle-up","circle","circle"]},
     "legend":{"orient":"none","legendX":224,"legendY":42,"title":null,"symbolSize":45,"labelOffset":9,"rowPadding":6,"encode":{"symbols":{"update":{"stroke":{"value":"black"},"strokeWidth":{"value":1}}}}}},
    "fill":{"field":"s","type":"nominal","scale":{"domain":["Basal","PFA","CytD","ATP","Serum"],"range":["black","white","white","black","white"]},
     "legend":{"orient":"none","legendX":224,"legendY":42,"title":null,"symbolSize":45,"labelOffset":9,"rowPadding":6,"encode":{"symbols":{"update":{"stroke":{"value":"black"},"strokeWidth":{"value":1}}}}}}
   }},
  {"data":{"values":[{}]},"mark":{"type":"text","text":"SVZ NPCs","font":"Open Sans","fontSize":17,"align":"center","baseline":"alphabetic"},"encoding":{"x":{"datum":4.031},"y":{"datum":671.2}}},
  {"data":{"values":[{}]},"mark":{"type":"point","shape":"square","size":210,"filled":false,"stroke":"black","strokeWidth":1.4,"opacity":1},"encoding":{"x":{"datum":-2.384},"y":{"datum":712.4}}},
  {"data":{"values":[{}]},"mark":{"type":"text","text":"H","font":"Liberation Sans","fontWeight":"bold","fontSize":14,"align":"center","baseline":"middle","dy":1},"encoding":{"x":{"datum":-2.384},"y":{"datum":712.4}}}
 ]}
],
"config":{
 "view":{"stroke":null},
 "font":"Open Sans",
 "axis":{"grid":false,"domainColor":"#000","tickColor":"#000","labelColor":"#000","titleColor":"#000","labelFont":"Open Sans","titleFont":"Open Sans","labelFontSize":13,"titleFontSize":13,"titleFontWeight":"normal","tickSize":4,"labelPadding":3,"titlePadding":3,"domainWidth":1,"tickWidth":1,"labelOverlap":false},
 "legend":{"labelFont":"Open Sans","labelFontSize":16,"titleFont":"Open Sans","titleFontSize":16,"titleFontWeight":"normal","labelColor":"#000","titleColor":"#000","labelLimit":200},
 "title":{"font":"Open Sans","fontSize":17,"fontWeight":"normal","color":"#000"}
}
}
